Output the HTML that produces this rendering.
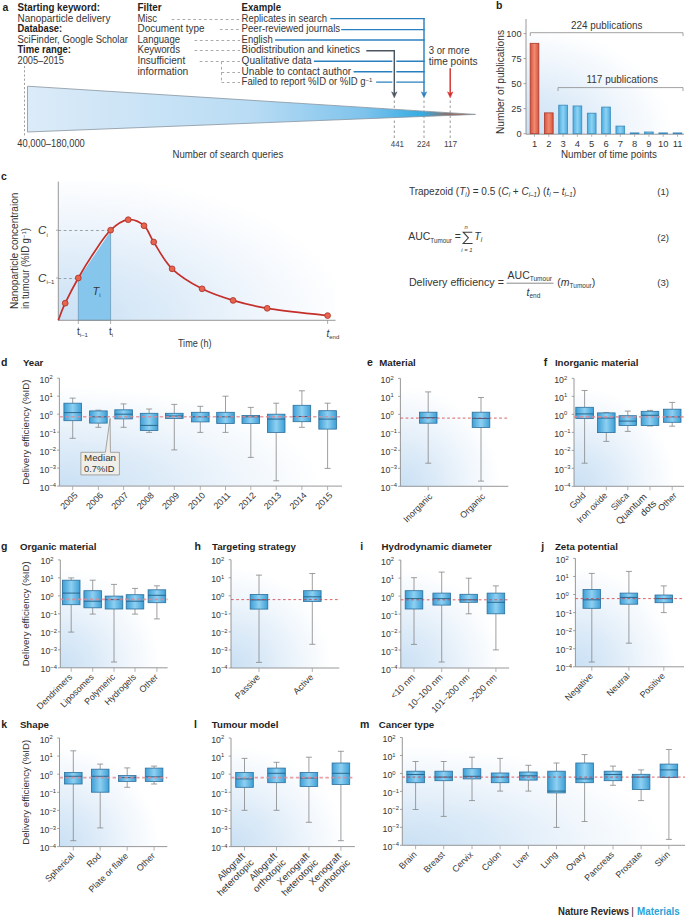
<!DOCTYPE html><html><head><meta charset="utf-8"><style>
html,body{margin:0;padding:0;background:#fff;width:685px;height:918px;overflow:hidden}
svg{display:block;font-family:"Liberation Sans", sans-serif}
</style></head><body>
<svg width="685" height="918" viewBox="0 0 685 918" fill="#363636">
<defs><linearGradient id="boxg" x1="0" y1="0" x2="1" y2="0">
<stop offset="0" stop-color="#3d9fd6"/><stop offset="0.5" stop-color="#8ed0f2"/><stop offset="1" stop-color="#3d9fd6"/></linearGradient>
<radialGradient id="bgr" cx="0" cy="1" r="1" fx="0" fy="1">
<stop offset="0" stop-color="#c9e0f4"/><stop offset="0.35" stop-color="#ddebf8"/><stop offset="0.65" stop-color="#f0f6fc"/><stop offset="0.93" stop-color="#ffffff"/></radialGradient>
<linearGradient id="bgg" x1="0" y1="1" x2="1" y2="0">
<stop offset="0" stop-color="#cbe1f4"/><stop offset="0.22" stop-color="#e0edf9"/><stop offset="0.45" stop-color="#f3f8fd"/><stop offset="0.68" stop-color="#ffffff"/></linearGradient>
<radialGradient id="bgc" cx="0" cy="1" r="1.15" fx="0" fy="1">
<stop offset="0" stop-color="#c9e0f4"/><stop offset="0.4" stop-color="#e0edf9"/><stop offset="0.7" stop-color="#f4f8fd"/><stop offset="0.92" stop-color="#ffffff"/></radialGradient>
<linearGradient id="funnel" x1="27" y1="0" x2="476" y2="0" gradientUnits="userSpaceOnUse">
<stop offset="0" stop-color="#dcebf8"/><stop offset="0.5" stop-color="#b9dcf4"/><stop offset="0.75" stop-color="#7ec3ec"/><stop offset="0.88" stop-color="#36abe2"/><stop offset="0.935" stop-color="#8a736c"/><stop offset="1" stop-color="#c04e3c"/></linearGradient>
<linearGradient id="barb" x1="0" y1="0" x2="1" y2="0">
<stop offset="0" stop-color="#4aaee0"/><stop offset="0.5" stop-color="#8fd2f3"/><stop offset="1" stop-color="#4aaee0"/></linearGradient>
<linearGradient id="barr" x1="0" y1="0" x2="1" y2="0">
<stop offset="0" stop-color="#d9533c"/><stop offset="0.5" stop-color="#f08a70"/><stop offset="1" stop-color="#d9533c"/></linearGradient>
<linearGradient id="trap" x1="0" y1="1" x2="1" y2="0">
<stop offset="0" stop-color="#7cc0ea"/><stop offset="1" stop-color="#a5d4f3"/></linearGradient>
<marker id="ab" viewBox="0 0 10 10" refX="5" refY="10" markerWidth="5" markerHeight="6" orient="auto-start-reverse"><path d="M0,0 L10,0 L5,10 z" fill="#2b86c5"/></marker></defs>
<text x="2.50" y="10.50" font-size="10.5" font-weight="bold" fill="#1e1e1e">a</text>
<text x="17.50" y="10.90" font-size="10.0" font-weight="bold" fill="#1e1e1e" textLength="82.40" lengthAdjust="spacingAndGlyphs">Starting keyword:</text>
<text x="17.50" y="21.53" font-size="10.0" textLength="92.90" lengthAdjust="spacingAndGlyphs">Nanoparticle delivery</text>
<text x="17.50" y="32.16" font-size="10.0" font-weight="bold" fill="#1e1e1e" textLength="44.70" lengthAdjust="spacingAndGlyphs">Database:</text>
<text x="17.50" y="42.79" font-size="10.0" textLength="110.40" lengthAdjust="spacingAndGlyphs">SciFinder, Google Scholar</text>
<text x="17.50" y="53.42" font-size="10.0" font-weight="bold" fill="#1e1e1e" textLength="53.50" lengthAdjust="spacingAndGlyphs">Time range:</text>
<text x="17.50" y="64.05" font-size="10.0" textLength="46.40" lengthAdjust="spacingAndGlyphs">2005–2015</text>
<text x="137.50" y="10.90" font-size="10.0" font-weight="bold" fill="#1e1e1e" textLength="24.20" lengthAdjust="spacingAndGlyphs">Filter</text>
<text x="137.50" y="21.53" font-size="10.0" textLength="19.60" lengthAdjust="spacingAndGlyphs">Misc</text>
<text x="137.50" y="32.16" font-size="10.0" textLength="67.10" lengthAdjust="spacingAndGlyphs">Document type</text>
<text x="137.50" y="42.79" font-size="10.0" textLength="42.60" lengthAdjust="spacingAndGlyphs">Language</text>
<text x="137.50" y="53.42" font-size="10.0" textLength="42.60" lengthAdjust="spacingAndGlyphs">Keywords</text>
<text x="137.50" y="64.05" font-size="10.0" textLength="47.70" lengthAdjust="spacingAndGlyphs">Insufficient</text>
<text x="137.50" y="74.68" font-size="10.0" textLength="50.80" lengthAdjust="spacingAndGlyphs">information</text>
<text x="241.60" y="10.90" font-size="10.0" font-weight="bold" fill="#1e1e1e" textLength="39.40" lengthAdjust="spacingAndGlyphs">Example</text>
<text x="241.60" y="21.53" font-size="10.0" textLength="85.40" lengthAdjust="spacingAndGlyphs">Replicates in search</text>
<text x="241.60" y="32.16" font-size="10.0" textLength="98.50" lengthAdjust="spacingAndGlyphs">Peer-reviewed journals</text>
<text x="241.60" y="42.79" font-size="10.0" textLength="31.10" lengthAdjust="spacingAndGlyphs">English</text>
<text x="241.60" y="53.42" font-size="10.0" textLength="118.50" lengthAdjust="spacingAndGlyphs">Biodistribution and kinetics</text>
<text x="241.60" y="64.05" font-size="10.0" textLength="70.10" lengthAdjust="spacingAndGlyphs">Qualitative data</text>
<text x="241.60" y="74.68" font-size="10.0" textLength="109.50" lengthAdjust="spacingAndGlyphs">Unable to contact author</text>
<text x="241.6" y="85.31" font-size="10.0" fill="#363636"><tspan textLength="124" lengthAdjust="spacingAndGlyphs">Failed to report %ID or %ID g</tspan><tspan dy="-3.5" font-size="6">−1</tspan></text>
<line x1="171.70" y1="19.50" x2="240.00" y2="19.50" stroke="#a0a0a0" stroke-width="0.9" stroke-dasharray="2.7,2.7"/>
<line x1="219.90" y1="29.50" x2="240.00" y2="29.50" stroke="#a0a0a0" stroke-width="0.9" stroke-dasharray="2.7,2.7"/>
<line x1="194.50" y1="40.50" x2="240.00" y2="40.50" stroke="#a0a0a0" stroke-width="0.9" stroke-dasharray="2.7,2.7"/>
<line x1="194.50" y1="50.50" x2="240.00" y2="50.50" stroke="#a0a0a0" stroke-width="0.9" stroke-dasharray="2.7,2.7"/>
<line x1="199.70" y1="61.50" x2="240.00" y2="61.50" stroke="#a0a0a0" stroke-width="0.9" stroke-dasharray="2.7,2.7"/>
<line x1="221.50" y1="61.50" x2="221.50" y2="82.50" stroke="#a0a0a0" stroke-width="0.9" stroke-dasharray="2.7,2.7"/>
<line x1="221.50" y1="72.50" x2="240.00" y2="72.50" stroke="#a0a0a0" stroke-width="0.9" stroke-dasharray="2.7,2.7"/>
<line x1="221.50" y1="82.50" x2="240.00" y2="82.50" stroke="#a0a0a0" stroke-width="0.9" stroke-dasharray="2.7,2.7"/>
<line x1="330.30" y1="18.60" x2="424.70" y2="18.60" stroke="#2a80bf" stroke-width="1.45"/>
<line x1="341.20" y1="29.60" x2="424.70" y2="29.60" stroke="#2a80bf" stroke-width="1.45"/>
<line x1="275.10" y1="40.00" x2="424.70" y2="40.00" stroke="#2a80bf" stroke-width="1.45"/>
<line x1="313.90" y1="61.30" x2="424.70" y2="61.30" stroke="#2a80bf" stroke-width="1.45"/>
<line x1="353.60" y1="71.80" x2="424.70" y2="71.80" stroke="#2a80bf" stroke-width="1.45"/>
<line x1="376.10" y1="82.10" x2="424.70" y2="82.10" stroke="#2a80bf" stroke-width="1.45"/>
<line x1="424.00" y1="17.90" x2="424.00" y2="94.00" stroke="#2a80bf" stroke-width="1.45"/>
<path d="M421.30,91.80 L424.00,97.80 L426.70,91.80 L424.00,93.60 z" fill="#2a80bf" stroke="#2a80bf" stroke-width="0.5" stroke-linejoin="miter"/>
<path d="M394.3,52 L394.3,93" fill="none" stroke="#ffffff" stroke-width="4"/>
<path d="M366.3,50.8 L394.3,50.8 L394.3,94" fill="none" stroke="#4b5660" stroke-width="1.45"/>
<path d="M391.60,91.80 L394.30,97.80 L397.00,91.80 L394.30,93.60 z" fill="#4b5660" stroke="#4b5660" stroke-width="0.5" stroke-linejoin="miter"/>
<line x1="450.20" y1="68.30" x2="450.20" y2="94.00" stroke="#d3302f" stroke-width="1.45"/>
<path d="M447.50,91.80 L450.20,97.80 L452.90,91.80 L450.20,93.60 z" fill="#d3302f" stroke="#d3302f" stroke-width="0.5" stroke-linejoin="miter"/>
<text x="428.70" y="53.80" font-size="10.0" textLength="40.80" lengthAdjust="spacingAndGlyphs">3 or more</text>
<text x="428.70" y="64.60" font-size="10.0" textLength="48.80" lengthAdjust="spacingAndGlyphs">time points</text>
<line x1="394.30" y1="100.50" x2="394.30" y2="138.00" stroke="#8c8c8c" stroke-width="0.9" stroke-dasharray="2.5,2.5"/>
<line x1="424.00" y1="100.50" x2="424.00" y2="138.00" stroke="#8c8c8c" stroke-width="0.9" stroke-dasharray="2.5,2.5"/>
<line x1="450.20" y1="100.50" x2="450.20" y2="138.00" stroke="#8c8c8c" stroke-width="0.9" stroke-dasharray="2.5,2.5"/>
<path d="M27.5,86.2 L475.5,114.4 L27.5,132 z" fill="url(#funnel)" stroke="#8894a0" stroke-width="0.8"/>
<line x1="24.50" y1="66.00" x2="24.50" y2="137.50" stroke="#8a8a8a" stroke-width="0.8" stroke-dasharray="2.2,2"/>
<text x="17.30" y="146.80" font-size="10.0" textLength="67.50" lengthAdjust="spacingAndGlyphs">40,000–180,000</text>
<text x="397.40" y="146.50" font-size="9.6" text-anchor="middle" fill="#444444" textLength="13.20" lengthAdjust="spacingAndGlyphs">441</text>
<text x="423.60" y="146.50" font-size="9.6" text-anchor="middle" fill="#444444" textLength="13.20" lengthAdjust="spacingAndGlyphs">224</text>
<text x="450.60" y="146.50" font-size="9.6" text-anchor="middle" fill="#444444" textLength="13.20" lengthAdjust="spacingAndGlyphs">117</text>
<text x="172.50" y="158.30" font-size="10.3" textLength="110.70" lengthAdjust="spacingAndGlyphs">Number of search queries</text>
<text x="496.00" y="8.80" font-size="10.5" font-weight="bold" fill="#1e1e1e">b</text>
<rect x="526" y="19" width="158" height="115" fill="url(#bgr)"/>
<line x1="526.00" y1="19.00" x2="526.00" y2="134.20" stroke="#8c8c8c" stroke-width="0.9"/>
<line x1="526.00" y1="134.20" x2="684.00" y2="134.20" stroke="#8c8c8c" stroke-width="0.9"/>
<line x1="523.50" y1="133.70" x2="526.00" y2="133.70" stroke="#8c8c8c" stroke-width="0.8"/>
<text x="521.50" y="137.00" font-size="9.2" text-anchor="end">0</text>
<line x1="523.50" y1="108.67" x2="526.00" y2="108.67" stroke="#8c8c8c" stroke-width="0.8"/>
<text x="521.50" y="111.97" font-size="9.2" text-anchor="end">25</text>
<line x1="523.50" y1="83.65" x2="526.00" y2="83.65" stroke="#8c8c8c" stroke-width="0.8"/>
<text x="521.50" y="86.95" font-size="9.2" text-anchor="end">50</text>
<line x1="523.50" y1="58.62" x2="526.00" y2="58.62" stroke="#8c8c8c" stroke-width="0.8"/>
<text x="521.50" y="61.92" font-size="9.2" text-anchor="end">75</text>
<line x1="523.50" y1="33.60" x2="526.00" y2="33.60" stroke="#8c8c8c" stroke-width="0.8"/>
<text x="521.50" y="36.90" font-size="9.2" text-anchor="end">100</text>
<rect x="530.15" y="43.31" width="8.7" height="90.39" fill="url(#barr)" stroke="#a83a2c" stroke-width="0.8"/>
<line x1="534.50" y1="134.20" x2="534.50" y2="136.80" stroke="#a0a0a0" stroke-width="0.8"/>
<text x="534.50" y="146.50" font-size="9.4" text-anchor="middle">1</text>
<rect x="544.45" y="112.88" width="8.7" height="20.82" fill="url(#barr)" stroke="#a83a2c" stroke-width="0.8"/>
<line x1="548.80" y1="134.20" x2="548.80" y2="136.80" stroke="#a0a0a0" stroke-width="0.8"/>
<text x="548.80" y="146.50" font-size="9.4" text-anchor="middle">2</text>
<rect x="558.75" y="105.17" width="8.7" height="28.53" fill="url(#barb)" stroke="#3a88ba" stroke-width="0.8"/>
<line x1="563.10" y1="134.20" x2="563.10" y2="136.80" stroke="#a0a0a0" stroke-width="0.8"/>
<text x="563.10" y="146.50" font-size="9.4" text-anchor="middle">3</text>
<rect x="573.05" y="105.97" width="8.7" height="27.73" fill="url(#barb)" stroke="#3a88ba" stroke-width="0.8"/>
<line x1="577.40" y1="134.20" x2="577.40" y2="136.80" stroke="#a0a0a0" stroke-width="0.8"/>
<text x="577.40" y="146.50" font-size="9.4" text-anchor="middle">4</text>
<rect x="587.35" y="113.18" width="8.7" height="20.52" fill="url(#barb)" stroke="#3a88ba" stroke-width="0.8"/>
<line x1="591.70" y1="134.20" x2="591.70" y2="136.80" stroke="#a0a0a0" stroke-width="0.8"/>
<text x="591.70" y="146.50" font-size="9.4" text-anchor="middle">5</text>
<rect x="601.65" y="107.07" width="8.7" height="26.63" fill="url(#barb)" stroke="#3a88ba" stroke-width="0.8"/>
<line x1="606.00" y1="134.20" x2="606.00" y2="136.80" stroke="#a0a0a0" stroke-width="0.8"/>
<text x="606.00" y="146.50" font-size="9.4" text-anchor="middle">6</text>
<rect x="615.95" y="126.09" width="8.7" height="7.61" fill="url(#barb)" stroke="#3a88ba" stroke-width="0.8"/>
<line x1="620.30" y1="134.20" x2="620.30" y2="136.80" stroke="#a0a0a0" stroke-width="0.8"/>
<text x="620.30" y="146.50" font-size="9.4" text-anchor="middle">7</text>
<rect x="630.25" y="132.90" width="8.7" height="0.80" fill="url(#barb)" stroke="#3a88ba" stroke-width="0.8"/>
<line x1="634.60" y1="134.20" x2="634.60" y2="136.80" stroke="#a0a0a0" stroke-width="0.8"/>
<text x="634.60" y="146.50" font-size="9.4" text-anchor="middle">8</text>
<rect x="644.55" y="132.00" width="8.7" height="1.70" fill="url(#barb)" stroke="#3a88ba" stroke-width="0.8"/>
<line x1="648.90" y1="134.20" x2="648.90" y2="136.80" stroke="#a0a0a0" stroke-width="0.8"/>
<text x="648.90" y="146.50" font-size="9.4" text-anchor="middle">9</text>
<rect x="658.85" y="132.90" width="8.7" height="0.80" fill="url(#barb)" stroke="#3a88ba" stroke-width="0.8"/>
<line x1="663.20" y1="134.20" x2="663.20" y2="136.80" stroke="#a0a0a0" stroke-width="0.8"/>
<text x="663.20" y="146.50" font-size="9.4" text-anchor="middle">10</text>
<rect x="673.15" y="132.90" width="8.7" height="0.80" fill="url(#barb)" stroke="#3a88ba" stroke-width="0.8"/>
<line x1="677.50" y1="134.20" x2="677.50" y2="136.80" stroke="#a0a0a0" stroke-width="0.8"/>
<text x="677.50" y="146.50" font-size="9.4" text-anchor="middle">11</text>
<path d="M530.3,36 L530.3,32.7 L683,32.7 L683,36" fill="none" stroke="#8a8a8a" stroke-width="0.8"/>
<path d="M558,91 L558,87.6 L683,87.6 L683,91" fill="none" stroke="#8a8a8a" stroke-width="0.8"/>
<text x="606.80" y="28.50" font-size="10.2" text-anchor="middle" textLength="71.50" lengthAdjust="spacingAndGlyphs">224 publications</text>
<text x="622.20" y="83.40" font-size="10.2" text-anchor="middle" textLength="71.50" lengthAdjust="spacingAndGlyphs">117 publications</text>
<text x="609.00" y="158.00" font-size="10.2" text-anchor="middle" textLength="96.00" lengthAdjust="spacingAndGlyphs">Number of time points</text>
<text x="503.50" y="82.00" font-size="10.2" text-anchor="middle" textLength="104.00" lengthAdjust="spacingAndGlyphs" transform="rotate(-90 503.50 82.00)">Number of publications</text>
<text x="1.00" y="179.80" font-size="10.5" font-weight="bold" fill="#1e1e1e">c</text>
<rect x="58.3" y="181.6" width="277" height="138.7" fill="url(#bgc)"/>
<path d="M78.3,278 L110.6,230.2 L110.6,320.3 L78.3,320.3 z" fill="#86c5ec" stroke="#5a88a8" stroke-width="0.6"/>
<path d="M78.3,278 L110.6,230.2" stroke="#ffffff" stroke-width="1.1"/>
<line x1="58.30" y1="230.50" x2="110.60" y2="230.50" stroke="#8f9aa2" stroke-width="0.9" stroke-dasharray="2.8,2.6"/>
<line x1="58.30" y1="278.50" x2="78.30" y2="278.50" stroke="#8f9aa2" stroke-width="0.9" stroke-dasharray="2.8,2.6"/>
<line x1="58.30" y1="181.60" x2="58.30" y2="320.30" stroke="#8c8c8c" stroke-width="0.9"/>
<line x1="58.30" y1="320.30" x2="335.50" y2="320.30" stroke="#8c8c8c" stroke-width="0.9"/>
<line x1="78.30" y1="320.30" x2="78.30" y2="324.00" stroke="#8c8c8c" stroke-width="0.7"/>
<line x1="110.60" y1="320.30" x2="110.60" y2="324.00" stroke="#8c8c8c" stroke-width="0.7"/>
<line x1="327.60" y1="320.30" x2="327.60" y2="324.00" stroke="#8c8c8c" stroke-width="0.7"/>
<line x1="56.00" y1="230.20" x2="58.30" y2="230.20" stroke="#8c8c8c" stroke-width="0.7"/>
<line x1="56.00" y1="278.00" x2="58.30" y2="278.00" stroke="#8c8c8c" stroke-width="0.7"/>
<path d="M58.30,320.30 C59.45,317.45 61.87,310.25 65.20,303.20 C68.53,296.15 73.47,286.50 78.30,278.00 C83.13,269.50 88.82,260.17 94.20,252.20 C99.58,244.23 104.93,235.62 110.60,230.20 C116.27,224.78 122.63,220.45 128.20,219.70 C133.77,218.95 139.75,221.98 144.00,225.70 C148.25,229.42 149.02,234.82 153.70,242.00 C158.38,249.18 164.03,261.00 172.10,268.80 C180.17,276.60 191.93,283.53 202.10,288.80 C212.27,294.07 222.25,297.15 233.10,300.40 C243.95,303.65 251.45,305.77 267.20,308.30 C282.95,310.83 317.53,314.38 327.60,315.60" fill="none" stroke="#c42f2a" stroke-width="1.7"/>
<circle cx="65.2" cy="303.2" r="2.9" fill="#e8654d" stroke="#a8302a" stroke-width="0.8"/>
<circle cx="78.3" cy="278.0" r="2.9" fill="#e8654d" stroke="#a8302a" stroke-width="0.8"/>
<circle cx="110.6" cy="230.2" r="2.9" fill="#e8654d" stroke="#a8302a" stroke-width="0.8"/>
<circle cx="128.2" cy="219.7" r="2.9" fill="#e8654d" stroke="#a8302a" stroke-width="0.8"/>
<circle cx="144.0" cy="225.7" r="2.9" fill="#e8654d" stroke="#a8302a" stroke-width="0.8"/>
<circle cx="153.7" cy="242.0" r="2.9" fill="#e8654d" stroke="#a8302a" stroke-width="0.8"/>
<circle cx="172.1" cy="268.8" r="2.9" fill="#e8654d" stroke="#a8302a" stroke-width="0.8"/>
<circle cx="202.1" cy="288.8" r="2.9" fill="#e8654d" stroke="#a8302a" stroke-width="0.8"/>
<circle cx="233.1" cy="300.4" r="2.9" fill="#e8654d" stroke="#a8302a" stroke-width="0.8"/>
<circle cx="267.2" cy="308.3" r="2.9" fill="#e8654d" stroke="#a8302a" stroke-width="0.8"/>
<circle cx="327.6" cy="315.6" r="2.9" fill="#e8654d" stroke="#a8302a" stroke-width="0.8"/>
<text x="38.1" y="234.1" font-size="11.5" font-style="italic">C<tspan dy="2.5" font-size="6" font-style="normal">i</tspan></text>
<text x="38.1" y="281.5" font-size="11.5" font-style="italic">C<tspan dy="2.5" font-size="6" font-style="normal">i–1</tspan></text>
<text x="92.5" y="294.5" font-size="11" font-style="italic">T<tspan dy="2.5" font-size="6" font-style="normal">i</tspan></text>
<text x="77" y="335" font-size="10">t<tspan dy="2" font-size="6">i–1</tspan></text>
<text x="109" y="335" font-size="10">t<tspan dy="2" font-size="6">i</tspan></text>
<text x="326.5" y="336.5" font-size="10" font-style="italic">t<tspan dy="2" font-size="6" font-style="normal">end</tspan></text>
<text x="177.90" y="347.10" font-size="10.0" textLength="33.60" lengthAdjust="spacingAndGlyphs">Time (h)</text>
<text x="18.30" y="309.10" font-size="10.0" textLength="116.40" lengthAdjust="spacingAndGlyphs" transform="rotate(-90 18.30 309.10)">Nanoparticle concentraion</text>
<text x="29.2" y="309.1" font-size="10.0" transform="rotate(-90 29.2 309.1)"><tspan textLength="71" lengthAdjust="spacingAndGlyphs">in tumour (%ID g</tspan><tspan dy="-3.5" font-size="6">−1</tspan><tspan dy="3.5">)</tspan></text>
<text x="408.9" y="194.7" font-size="10.5" transform="translate(408.9 0) scale(0.954 1) translate(-408.9 0)">Trapezoid (<tspan font-style="italic">T</tspan><tspan dy="2" font-size="6.5" font-style="italic">i</tspan><tspan dy="-2">) = 0.5 (</tspan><tspan font-style="italic">C</tspan><tspan dy="2" font-size="6.5" font-style="italic">i</tspan><tspan dy="-2"> + </tspan><tspan font-style="italic">C</tspan><tspan dy="2" font-size="6.5" font-style="italic">i–1</tspan><tspan dy="-2">) (</tspan><tspan font-style="italic">t</tspan><tspan dy="2" font-size="6.5" font-style="italic">i</tspan><tspan dy="-2"> – </tspan><tspan font-style="italic">t</tspan><tspan dy="2" font-size="6.5" font-style="italic">i–1</tspan><tspan dy="-2">)</tspan></text>
<text x="657.20" y="194.90" font-size="9.6">(1)</text>
<text x="408.2" y="240.3" font-size="10.5">AUC<tspan dy="2.2" font-size="6.8" textLength="21.5" lengthAdjust="spacingAndGlyphs">Tumour</tspan></text>
<text x="454.80" y="240.30" font-size="10.5">=</text>
<path d="M472.3,232.2 L463.2,232.2 L468.4,237.8 L463.2,243.4 L472.6,243.4" fill="none" stroke="#3d3d3d" stroke-width="1.05" stroke-linejoin="miter"/>
<text x="464.60" y="228.60" font-size="5.8" font-style="italic">n</text>
<text x="461.30" y="252.00" font-size="5.8" font-style="italic">i = 1</text>
<text x="474.3" y="240.0" font-size="10.5" font-style="italic">T<tspan dy="2" font-size="6.5">i</tspan></text>
<text x="657.20" y="240.80" font-size="9.6">(2)</text>
<text x="408.90" y="286.30" font-size="10.5" textLength="95.00" lengthAdjust="spacingAndGlyphs">Delivery efficiency =</text>
<text x="507.6" y="279.3" font-size="10.5">AUC<tspan dy="2" font-size="6.5">Tumour</tspan></text>
<line x1="506.50" y1="283.20" x2="553.50" y2="283.20" stroke="#3d3d3d" stroke-width="0.6"/>
<text x="526.5" y="295.6" font-size="10.5" font-style="italic">t<tspan dy="2" font-size="6.5" font-style="normal">end</tspan></text>
<text x="557.3" y="285.9" font-size="10.5">(<tspan font-style="italic">m</tspan><tspan dy="2" font-size="6.5">Tumour</tspan><tspan dy="-2">)</tspan></text>
<text x="657.20" y="285.90" font-size="9.6">(3)</text>
<text x="1.00" y="366.10" font-size="10.5" font-weight="bold" fill="#1e1e1e">d</text>
<text x="22.90" y="366.10" font-size="9.7" font-weight="bold" fill="#1e1e1e">Year</text>
<rect x="59.40" y="378.20" width="282.60" height="107.90" fill="url(#bgr)"/>
<line x1="59.40" y1="378.20" x2="59.40" y2="486.10" stroke="#8c8c8c" stroke-width="0.9"/>
<line x1="59.40" y1="486.10" x2="342.00" y2="486.10" stroke="#8c8c8c" stroke-width="0.9"/>
<line x1="57.10" y1="378.20" x2="59.40" y2="378.20" stroke="#8c8c8c" stroke-width="0.8"/>
<text x="39.60" y="382.70" font-size="8.8">10<tspan dy="-3.4" font-size="5.8">2</tspan></text>
<line x1="57.10" y1="396.18" x2="59.40" y2="396.18" stroke="#8c8c8c" stroke-width="0.8"/>
<text x="39.60" y="400.68" font-size="8.8">10<tspan dy="-3.4" font-size="5.8">1</tspan></text>
<line x1="57.10" y1="414.17" x2="59.40" y2="414.17" stroke="#8c8c8c" stroke-width="0.8"/>
<text x="39.60" y="418.67" font-size="8.8">10<tspan dy="-3.4" font-size="5.8">0</tspan></text>
<line x1="57.10" y1="432.15" x2="59.40" y2="432.15" stroke="#8c8c8c" stroke-width="0.8"/>
<text x="39.60" y="436.65" font-size="8.8">10<tspan dy="-3.4" font-size="5.8">−1</tspan></text>
<line x1="57.10" y1="450.13" x2="59.40" y2="450.13" stroke="#8c8c8c" stroke-width="0.8"/>
<text x="39.60" y="454.63" font-size="8.8">10<tspan dy="-3.4" font-size="5.8">−2</tspan></text>
<line x1="57.10" y1="468.12" x2="59.40" y2="468.12" stroke="#8c8c8c" stroke-width="0.8"/>
<text x="39.60" y="472.62" font-size="8.8">10<tspan dy="-3.4" font-size="5.8">−3</tspan></text>
<line x1="57.10" y1="486.10" x2="59.40" y2="486.10" stroke="#8c8c8c" stroke-width="0.8"/>
<text x="39.60" y="490.60" font-size="8.8">10<tspan dy="-3.4" font-size="5.8">−4</tspan></text>
<line x1="72.70" y1="486.10" x2="72.70" y2="490.10" stroke="#a0a0a0" stroke-width="0.8"/>
<line x1="98.40" y1="486.10" x2="98.40" y2="490.10" stroke="#a0a0a0" stroke-width="0.8"/>
<line x1="123.60" y1="486.10" x2="123.60" y2="490.10" stroke="#a0a0a0" stroke-width="0.8"/>
<line x1="149.10" y1="486.10" x2="149.10" y2="490.10" stroke="#a0a0a0" stroke-width="0.8"/>
<line x1="174.30" y1="486.10" x2="174.30" y2="490.10" stroke="#a0a0a0" stroke-width="0.8"/>
<line x1="200.30" y1="486.10" x2="200.30" y2="490.10" stroke="#a0a0a0" stroke-width="0.8"/>
<line x1="225.50" y1="486.10" x2="225.50" y2="490.10" stroke="#a0a0a0" stroke-width="0.8"/>
<line x1="250.80" y1="486.10" x2="250.80" y2="490.10" stroke="#a0a0a0" stroke-width="0.8"/>
<line x1="276.20" y1="486.10" x2="276.20" y2="490.10" stroke="#a0a0a0" stroke-width="0.8"/>
<line x1="301.90" y1="486.10" x2="301.90" y2="490.10" stroke="#a0a0a0" stroke-width="0.8"/>
<line x1="327.60" y1="486.10" x2="327.60" y2="490.10" stroke="#a0a0a0" stroke-width="0.8"/>
<line x1="72.70" y1="398.10" x2="72.70" y2="403.20" stroke="#868686" stroke-width="0.8"/>
<line x1="72.70" y1="420.70" x2="72.70" y2="438.30" stroke="#868686" stroke-width="0.8"/>
<line x1="69.70" y1="398.10" x2="75.70" y2="398.10" stroke="#868686" stroke-width="0.8"/>
<line x1="69.70" y1="438.30" x2="75.70" y2="438.30" stroke="#868686" stroke-width="0.8"/>
<rect x="63.90" y="403.20" width="17.6" height="17.50" fill="url(#boxg)" stroke="#2c6f9c" stroke-width="0.8"/>
<line x1="63.90" y1="412.60" x2="81.50" y2="412.60" stroke="#245f85" stroke-width="0.9"/>
<line x1="98.40" y1="410.20" x2="98.40" y2="410.90" stroke="#868686" stroke-width="0.8"/>
<line x1="98.40" y1="423.10" x2="98.40" y2="427.30" stroke="#868686" stroke-width="0.8"/>
<line x1="95.40" y1="410.20" x2="101.40" y2="410.20" stroke="#868686" stroke-width="0.8"/>
<line x1="95.40" y1="427.30" x2="101.40" y2="427.30" stroke="#868686" stroke-width="0.8"/>
<rect x="89.60" y="410.90" width="17.6" height="12.20" fill="url(#boxg)" stroke="#2c6f9c" stroke-width="0.8"/>
<line x1="89.60" y1="416.80" x2="107.20" y2="416.80" stroke="#245f85" stroke-width="0.9"/>
<line x1="123.60" y1="403.90" x2="123.60" y2="409.80" stroke="#868686" stroke-width="0.8"/>
<line x1="123.60" y1="418.90" x2="123.60" y2="427.30" stroke="#868686" stroke-width="0.8"/>
<line x1="120.60" y1="403.90" x2="126.60" y2="403.90" stroke="#868686" stroke-width="0.8"/>
<line x1="120.60" y1="427.30" x2="126.60" y2="427.30" stroke="#868686" stroke-width="0.8"/>
<rect x="114.80" y="409.80" width="17.6" height="9.10" fill="url(#boxg)" stroke="#2c6f9c" stroke-width="0.8"/>
<line x1="114.80" y1="414.20" x2="132.40" y2="414.20" stroke="#245f85" stroke-width="0.9"/>
<line x1="149.10" y1="409.00" x2="149.10" y2="413.30" stroke="#868686" stroke-width="0.8"/>
<line x1="149.10" y1="430.50" x2="149.10" y2="432.40" stroke="#868686" stroke-width="0.8"/>
<line x1="146.10" y1="409.00" x2="152.10" y2="409.00" stroke="#868686" stroke-width="0.8"/>
<line x1="146.10" y1="432.40" x2="152.10" y2="432.40" stroke="#868686" stroke-width="0.8"/>
<rect x="140.30" y="413.30" width="17.6" height="17.20" fill="url(#boxg)" stroke="#2c6f9c" stroke-width="0.8"/>
<line x1="140.30" y1="425.40" x2="157.90" y2="425.40" stroke="#245f85" stroke-width="0.9"/>
<line x1="174.30" y1="404.40" x2="174.30" y2="413.30" stroke="#868686" stroke-width="0.8"/>
<line x1="174.30" y1="418.40" x2="174.30" y2="449.90" stroke="#868686" stroke-width="0.8"/>
<line x1="171.30" y1="404.40" x2="177.30" y2="404.40" stroke="#868686" stroke-width="0.8"/>
<line x1="171.30" y1="449.90" x2="177.30" y2="449.90" stroke="#868686" stroke-width="0.8"/>
<rect x="165.50" y="413.30" width="17.6" height="5.10" fill="url(#boxg)" stroke="#2c6f9c" stroke-width="0.8"/>
<line x1="165.50" y1="416.00" x2="183.10" y2="416.00" stroke="#245f85" stroke-width="0.9"/>
<line x1="200.30" y1="406.30" x2="200.30" y2="412.30" stroke="#868686" stroke-width="0.8"/>
<line x1="200.30" y1="421.90" x2="200.30" y2="432.40" stroke="#868686" stroke-width="0.8"/>
<line x1="197.30" y1="406.30" x2="203.30" y2="406.30" stroke="#868686" stroke-width="0.8"/>
<line x1="197.30" y1="432.40" x2="203.30" y2="432.40" stroke="#868686" stroke-width="0.8"/>
<rect x="191.50" y="412.30" width="17.6" height="9.60" fill="url(#boxg)" stroke="#2c6f9c" stroke-width="0.8"/>
<line x1="191.50" y1="416.80" x2="209.10" y2="416.80" stroke="#245f85" stroke-width="0.9"/>
<line x1="225.50" y1="396.20" x2="225.50" y2="412.30" stroke="#868686" stroke-width="0.8"/>
<line x1="225.50" y1="423.50" x2="225.50" y2="432.40" stroke="#868686" stroke-width="0.8"/>
<line x1="222.50" y1="396.20" x2="228.50" y2="396.20" stroke="#868686" stroke-width="0.8"/>
<line x1="222.50" y1="432.40" x2="228.50" y2="432.40" stroke="#868686" stroke-width="0.8"/>
<rect x="216.70" y="412.30" width="17.6" height="11.20" fill="url(#boxg)" stroke="#2c6f9c" stroke-width="0.8"/>
<line x1="216.70" y1="416.80" x2="234.30" y2="416.80" stroke="#245f85" stroke-width="0.9"/>
<line x1="250.80" y1="407.40" x2="250.80" y2="415.40" stroke="#868686" stroke-width="0.8"/>
<line x1="250.80" y1="423.50" x2="250.80" y2="457.40" stroke="#868686" stroke-width="0.8"/>
<line x1="247.80" y1="407.40" x2="253.80" y2="407.40" stroke="#868686" stroke-width="0.8"/>
<line x1="247.80" y1="457.40" x2="253.80" y2="457.40" stroke="#868686" stroke-width="0.8"/>
<rect x="242.00" y="415.40" width="17.6" height="8.10" fill="url(#boxg)" stroke="#2c6f9c" stroke-width="0.8"/>
<line x1="242.00" y1="416.80" x2="259.60" y2="416.80" stroke="#245f85" stroke-width="0.9"/>
<line x1="276.20" y1="403.20" x2="276.20" y2="414.20" stroke="#868686" stroke-width="0.8"/>
<line x1="276.20" y1="432.40" x2="276.20" y2="480.80" stroke="#868686" stroke-width="0.8"/>
<line x1="273.20" y1="403.20" x2="279.20" y2="403.20" stroke="#868686" stroke-width="0.8"/>
<line x1="273.20" y1="480.80" x2="279.20" y2="480.80" stroke="#868686" stroke-width="0.8"/>
<rect x="267.40" y="414.20" width="17.6" height="18.20" fill="url(#boxg)" stroke="#2c6f9c" stroke-width="0.8"/>
<line x1="267.40" y1="419.10" x2="285.00" y2="419.10" stroke="#245f85" stroke-width="0.9"/>
<line x1="301.90" y1="390.80" x2="301.90" y2="405.30" stroke="#868686" stroke-width="0.8"/>
<line x1="301.90" y1="421.70" x2="301.90" y2="427.30" stroke="#868686" stroke-width="0.8"/>
<line x1="298.90" y1="390.80" x2="304.90" y2="390.80" stroke="#868686" stroke-width="0.8"/>
<line x1="298.90" y1="427.30" x2="304.90" y2="427.30" stroke="#868686" stroke-width="0.8"/>
<rect x="293.10" y="405.30" width="17.6" height="16.40" fill="url(#boxg)" stroke="#2c6f9c" stroke-width="0.8"/>
<line x1="293.10" y1="416.50" x2="310.70" y2="416.50" stroke="#245f85" stroke-width="0.9"/>
<line x1="327.60" y1="403.20" x2="327.60" y2="410.70" stroke="#868686" stroke-width="0.8"/>
<line x1="327.60" y1="429.10" x2="327.60" y2="468.40" stroke="#868686" stroke-width="0.8"/>
<line x1="324.60" y1="403.20" x2="330.60" y2="403.20" stroke="#868686" stroke-width="0.8"/>
<line x1="324.60" y1="468.40" x2="330.60" y2="468.40" stroke="#868686" stroke-width="0.8"/>
<rect x="318.80" y="410.70" width="17.6" height="18.40" fill="url(#boxg)" stroke="#2c6f9c" stroke-width="0.8"/>
<line x1="318.80" y1="419.10" x2="336.40" y2="419.10" stroke="#245f85" stroke-width="0.9"/>
<line x1="59.40" y1="416.80" x2="342.00" y2="416.80" stroke="#e38893" stroke-width="1.6" stroke-dasharray="3.4,2.5" opacity="0.8"/>
<text x="28.60" y="432.15" font-size="9.6" text-anchor="middle" textLength="105.00" lengthAdjust="spacingAndGlyphs" transform="rotate(-90 28.60 432.15)">Delivery efficiency (%ID)</text>
<text x="78.20" y="495.90" font-size="9.0" text-anchor="end" transform="rotate(-45 78.20 495.90)">2005</text>
<text x="103.90" y="495.90" font-size="9.0" text-anchor="end" transform="rotate(-45 103.90 495.90)">2006</text>
<text x="129.10" y="495.90" font-size="9.0" text-anchor="end" transform="rotate(-45 129.10 495.90)">2007</text>
<text x="154.60" y="495.90" font-size="9.0" text-anchor="end" transform="rotate(-45 154.60 495.90)">2008</text>
<text x="179.80" y="495.90" font-size="9.0" text-anchor="end" transform="rotate(-45 179.80 495.90)">2009</text>
<text x="205.80" y="495.90" font-size="9.0" text-anchor="end" transform="rotate(-45 205.80 495.90)">2010</text>
<text x="231.00" y="495.90" font-size="9.0" text-anchor="end" transform="rotate(-45 231.00 495.90)">2011</text>
<text x="256.30" y="495.90" font-size="9.0" text-anchor="end" transform="rotate(-45 256.30 495.90)">2012</text>
<text x="281.70" y="495.90" font-size="9.0" text-anchor="end" transform="rotate(-45 281.70 495.90)">2013</text>
<text x="307.40" y="495.90" font-size="9.0" text-anchor="end" transform="rotate(-45 307.40 495.90)">2014</text>
<text x="333.10" y="495.90" font-size="9.0" text-anchor="end" transform="rotate(-45 333.10 495.90)">2015</text>
<path d="M80.9,452.3 L105.4,452.3 L110.1,418.4 L110.4,452.3 L119.4,452.3 L119.4,474.9 L80.9,474.9 z" fill="#efeee8" stroke="#85857f" stroke-width="0.7"/>
<text x="84.00" y="461.30" font-size="9.8" textLength="32.00" lengthAdjust="spacingAndGlyphs">Median</text>
<text x="84.00" y="471.90" font-size="9.8" textLength="30.50" lengthAdjust="spacingAndGlyphs">0.7%ID</text>
<text x="367.00" y="366.10" font-size="10.5" font-weight="bold" fill="#1e1e1e">e</text>
<text x="379.20" y="366.10" font-size="9.7" font-weight="bold" fill="#1e1e1e">Material</text>
<rect x="400.40" y="378.40" width="107.90" height="107.90" fill="url(#bgr)"/>
<line x1="400.40" y1="378.40" x2="400.40" y2="486.30" stroke="#8c8c8c" stroke-width="0.9"/>
<line x1="400.40" y1="486.30" x2="508.30" y2="486.30" stroke="#8c8c8c" stroke-width="0.9"/>
<line x1="398.10" y1="378.40" x2="400.40" y2="378.40" stroke="#8c8c8c" stroke-width="0.8"/>
<text x="380.60" y="382.90" font-size="8.8">10<tspan dy="-3.4" font-size="5.8">2</tspan></text>
<line x1="398.10" y1="396.38" x2="400.40" y2="396.38" stroke="#8c8c8c" stroke-width="0.8"/>
<text x="380.60" y="400.88" font-size="8.8">10<tspan dy="-3.4" font-size="5.8">1</tspan></text>
<line x1="398.10" y1="414.37" x2="400.40" y2="414.37" stroke="#8c8c8c" stroke-width="0.8"/>
<text x="380.60" y="418.87" font-size="8.8">10<tspan dy="-3.4" font-size="5.8">0</tspan></text>
<line x1="398.10" y1="432.35" x2="400.40" y2="432.35" stroke="#8c8c8c" stroke-width="0.8"/>
<text x="380.60" y="436.85" font-size="8.8">10<tspan dy="-3.4" font-size="5.8">−1</tspan></text>
<line x1="398.10" y1="450.33" x2="400.40" y2="450.33" stroke="#8c8c8c" stroke-width="0.8"/>
<text x="380.60" y="454.83" font-size="8.8">10<tspan dy="-3.4" font-size="5.8">−2</tspan></text>
<line x1="398.10" y1="468.32" x2="400.40" y2="468.32" stroke="#8c8c8c" stroke-width="0.8"/>
<text x="380.60" y="472.82" font-size="8.8">10<tspan dy="-3.4" font-size="5.8">−3</tspan></text>
<line x1="398.10" y1="486.30" x2="400.40" y2="486.30" stroke="#8c8c8c" stroke-width="0.8"/>
<text x="380.60" y="490.80" font-size="8.8">10<tspan dy="-3.4" font-size="5.8">−4</tspan></text>
<line x1="428.20" y1="486.30" x2="428.20" y2="490.30" stroke="#a0a0a0" stroke-width="0.8"/>
<line x1="481.00" y1="486.30" x2="481.00" y2="490.30" stroke="#a0a0a0" stroke-width="0.8"/>
<line x1="428.20" y1="391.90" x2="428.20" y2="412.20" stroke="#868686" stroke-width="0.8"/>
<line x1="428.20" y1="423.20" x2="428.20" y2="463.20" stroke="#868686" stroke-width="0.8"/>
<line x1="425.20" y1="391.90" x2="431.20" y2="391.90" stroke="#868686" stroke-width="0.8"/>
<line x1="425.20" y1="463.20" x2="431.20" y2="463.20" stroke="#868686" stroke-width="0.8"/>
<rect x="419.40" y="412.20" width="17.6" height="11.00" fill="url(#boxg)" stroke="#2c6f9c" stroke-width="0.8"/>
<line x1="419.40" y1="417.60" x2="437.00" y2="417.60" stroke="#245f85" stroke-width="0.9"/>
<line x1="481.00" y1="397.50" x2="481.00" y2="412.20" stroke="#868686" stroke-width="0.8"/>
<line x1="481.00" y1="427.40" x2="481.00" y2="481.10" stroke="#868686" stroke-width="0.8"/>
<line x1="478.00" y1="397.50" x2="484.00" y2="397.50" stroke="#868686" stroke-width="0.8"/>
<line x1="478.00" y1="481.10" x2="484.00" y2="481.10" stroke="#868686" stroke-width="0.8"/>
<rect x="472.20" y="412.20" width="17.6" height="15.20" fill="url(#boxg)" stroke="#2c6f9c" stroke-width="0.8"/>
<line x1="472.20" y1="418.50" x2="489.80" y2="418.50" stroke="#245f85" stroke-width="0.9"/>
<line x1="400.40" y1="418.10" x2="508.30" y2="418.10" stroke="#d63c44" stroke-width="1.0" stroke-dasharray="2.7,2.5" opacity="0.8"/>
<text x="432.80" y="497.10" font-size="8.9" text-anchor="end" transform="rotate(-45 432.80 497.10)">Inorganic</text>
<text x="485.60" y="497.10" font-size="8.9" text-anchor="end" transform="rotate(-45 485.60 497.10)">Organic</text>
<text x="543.70" y="366.10" font-size="10.5" font-weight="bold" fill="#1e1e1e">f</text>
<text x="554.90" y="366.10" font-size="9.7" font-weight="bold" fill="#1e1e1e">Inorganic material</text>
<rect x="574.00" y="378.40" width="110.00" height="107.90" fill="url(#bgr)"/>
<line x1="574.00" y1="378.40" x2="574.00" y2="486.30" stroke="#8c8c8c" stroke-width="0.9"/>
<line x1="574.00" y1="486.30" x2="684.00" y2="486.30" stroke="#8c8c8c" stroke-width="0.9"/>
<line x1="571.70" y1="378.40" x2="574.00" y2="378.40" stroke="#8c8c8c" stroke-width="0.8"/>
<text x="554.20" y="382.90" font-size="8.8">10<tspan dy="-3.4" font-size="5.8">2</tspan></text>
<line x1="571.70" y1="396.38" x2="574.00" y2="396.38" stroke="#8c8c8c" stroke-width="0.8"/>
<text x="554.20" y="400.88" font-size="8.8">10<tspan dy="-3.4" font-size="5.8">1</tspan></text>
<line x1="571.70" y1="414.37" x2="574.00" y2="414.37" stroke="#8c8c8c" stroke-width="0.8"/>
<text x="554.20" y="418.87" font-size="8.8">10<tspan dy="-3.4" font-size="5.8">0</tspan></text>
<line x1="571.70" y1="432.35" x2="574.00" y2="432.35" stroke="#8c8c8c" stroke-width="0.8"/>
<text x="554.20" y="436.85" font-size="8.8">10<tspan dy="-3.4" font-size="5.8">−1</tspan></text>
<line x1="571.70" y1="450.33" x2="574.00" y2="450.33" stroke="#8c8c8c" stroke-width="0.8"/>
<text x="554.20" y="454.83" font-size="8.8">10<tspan dy="-3.4" font-size="5.8">−2</tspan></text>
<line x1="571.70" y1="468.32" x2="574.00" y2="468.32" stroke="#8c8c8c" stroke-width="0.8"/>
<text x="554.20" y="472.82" font-size="8.8">10<tspan dy="-3.4" font-size="5.8">−3</tspan></text>
<line x1="571.70" y1="486.30" x2="574.00" y2="486.30" stroke="#8c8c8c" stroke-width="0.8"/>
<text x="554.20" y="490.80" font-size="8.8">10<tspan dy="-3.4" font-size="5.8">−4</tspan></text>
<line x1="584.60" y1="486.30" x2="584.60" y2="490.30" stroke="#a0a0a0" stroke-width="0.8"/>
<line x1="606.30" y1="486.30" x2="606.30" y2="490.30" stroke="#a0a0a0" stroke-width="0.8"/>
<line x1="627.80" y1="486.30" x2="627.80" y2="490.30" stroke="#a0a0a0" stroke-width="0.8"/>
<line x1="650.00" y1="486.30" x2="650.00" y2="490.30" stroke="#a0a0a0" stroke-width="0.8"/>
<line x1="672.20" y1="486.30" x2="672.20" y2="490.30" stroke="#a0a0a0" stroke-width="0.8"/>
<line x1="584.60" y1="390.50" x2="584.60" y2="407.30" stroke="#868686" stroke-width="0.8"/>
<line x1="584.60" y1="418.50" x2="584.60" y2="463.20" stroke="#868686" stroke-width="0.8"/>
<line x1="581.60" y1="390.50" x2="587.60" y2="390.50" stroke="#868686" stroke-width="0.8"/>
<line x1="581.60" y1="463.20" x2="587.60" y2="463.20" stroke="#868686" stroke-width="0.8"/>
<rect x="575.80" y="407.30" width="17.6" height="11.20" fill="url(#boxg)" stroke="#2c6f9c" stroke-width="0.8"/>
<line x1="575.80" y1="413.90" x2="593.40" y2="413.90" stroke="#245f85" stroke-width="0.9"/>
<line x1="606.30" y1="412.50" x2="606.30" y2="412.90" stroke="#868686" stroke-width="0.8"/>
<line x1="606.30" y1="432.60" x2="606.30" y2="441.40" stroke="#868686" stroke-width="0.8"/>
<line x1="603.30" y1="412.50" x2="609.30" y2="412.50" stroke="#868686" stroke-width="0.8"/>
<line x1="603.30" y1="441.40" x2="609.30" y2="441.40" stroke="#868686" stroke-width="0.8"/>
<rect x="597.50" y="412.90" width="17.6" height="19.70" fill="url(#boxg)" stroke="#2c6f9c" stroke-width="0.8"/>
<line x1="597.50" y1="418.10" x2="615.10" y2="418.10" stroke="#245f85" stroke-width="0.9"/>
<line x1="627.80" y1="411.10" x2="627.80" y2="415.70" stroke="#868686" stroke-width="0.8"/>
<line x1="627.80" y1="425.50" x2="627.80" y2="431.40" stroke="#868686" stroke-width="0.8"/>
<line x1="624.80" y1="411.10" x2="630.80" y2="411.10" stroke="#868686" stroke-width="0.8"/>
<line x1="624.80" y1="431.40" x2="630.80" y2="431.40" stroke="#868686" stroke-width="0.8"/>
<rect x="619.00" y="415.70" width="17.6" height="9.80" fill="url(#boxg)" stroke="#2c6f9c" stroke-width="0.8"/>
<line x1="619.00" y1="421.10" x2="636.60" y2="421.10" stroke="#245f85" stroke-width="0.9"/>
<line x1="650.00" y1="410.40" x2="650.00" y2="411.30" stroke="#868686" stroke-width="0.8"/>
<line x1="650.00" y1="425.50" x2="650.00" y2="426.00" stroke="#868686" stroke-width="0.8"/>
<line x1="647.00" y1="410.40" x2="653.00" y2="410.40" stroke="#868686" stroke-width="0.8"/>
<line x1="647.00" y1="426.00" x2="653.00" y2="426.00" stroke="#868686" stroke-width="0.8"/>
<rect x="641.20" y="411.30" width="17.6" height="14.20" fill="url(#boxg)" stroke="#2c6f9c" stroke-width="0.8"/>
<line x1="641.20" y1="415.30" x2="658.80" y2="415.30" stroke="#245f85" stroke-width="0.9"/>
<line x1="672.20" y1="402.40" x2="672.20" y2="409.20" stroke="#868686" stroke-width="0.8"/>
<line x1="672.20" y1="422.30" x2="672.20" y2="426.20" stroke="#868686" stroke-width="0.8"/>
<line x1="669.20" y1="402.40" x2="675.20" y2="402.40" stroke="#868686" stroke-width="0.8"/>
<line x1="669.20" y1="426.20" x2="675.20" y2="426.20" stroke="#868686" stroke-width="0.8"/>
<rect x="663.40" y="409.20" width="17.6" height="13.10" fill="url(#boxg)" stroke="#2c6f9c" stroke-width="0.8"/>
<line x1="663.40" y1="416.90" x2="681.00" y2="416.90" stroke="#245f85" stroke-width="0.9"/>
<line x1="574.00" y1="416.90" x2="684.00" y2="416.90" stroke="#e38893" stroke-width="1.6" stroke-dasharray="3.4,2.5" opacity="0.8"/>
<text x="586.20" y="496.10" font-size="8.9" text-anchor="end" transform="rotate(-45 586.20 496.10)">Gold</text>
<text x="607.90" y="496.10" font-size="8.9" text-anchor="end" transform="rotate(-45 607.90 496.10)">Iron oxide</text>
<text x="629.40" y="496.10" font-size="8.9" text-anchor="end" transform="rotate(-45 629.40 496.10)">Silica</text>
<text x="647.30" y="497.40" font-size="9.5" text-anchor="end" transform="rotate(-45 647.30 497.40)">Quantum</text>
<text x="656.80" y="504.10" font-size="9.5" text-anchor="end" transform="rotate(-45 656.80 504.10)">dots</text>
<text x="677.30" y="496.10" font-size="8.9" text-anchor="end" transform="rotate(-45 677.30 496.10)">Other</text>
<text x="1.00" y="549.90" font-size="10.5" font-weight="bold" fill="#1e1e1e">g</text>
<text x="19.90" y="549.90" font-size="9.7" font-weight="bold" fill="#1e1e1e">Organic material</text>
<rect x="60.30" y="559.90" width="107.30" height="107.90" fill="url(#bgr)"/>
<line x1="60.30" y1="559.90" x2="60.30" y2="667.80" stroke="#8c8c8c" stroke-width="0.9"/>
<line x1="60.30" y1="667.80" x2="167.60" y2="667.80" stroke="#8c8c8c" stroke-width="0.9"/>
<line x1="58.00" y1="559.90" x2="60.30" y2="559.90" stroke="#8c8c8c" stroke-width="0.8"/>
<text x="40.50" y="564.40" font-size="8.8">10<tspan dy="-3.4" font-size="5.8">2</tspan></text>
<line x1="58.00" y1="577.88" x2="60.30" y2="577.88" stroke="#8c8c8c" stroke-width="0.8"/>
<text x="40.50" y="582.38" font-size="8.8">10<tspan dy="-3.4" font-size="5.8">1</tspan></text>
<line x1="58.00" y1="595.87" x2="60.30" y2="595.87" stroke="#8c8c8c" stroke-width="0.8"/>
<text x="40.50" y="600.37" font-size="8.8">10<tspan dy="-3.4" font-size="5.8">0</tspan></text>
<line x1="58.00" y1="613.85" x2="60.30" y2="613.85" stroke="#8c8c8c" stroke-width="0.8"/>
<text x="40.50" y="618.35" font-size="8.8">10<tspan dy="-3.4" font-size="5.8">−1</tspan></text>
<line x1="58.00" y1="631.83" x2="60.30" y2="631.83" stroke="#8c8c8c" stroke-width="0.8"/>
<text x="40.50" y="636.33" font-size="8.8">10<tspan dy="-3.4" font-size="5.8">−2</tspan></text>
<line x1="58.00" y1="649.82" x2="60.30" y2="649.82" stroke="#8c8c8c" stroke-width="0.8"/>
<text x="40.50" y="654.32" font-size="8.8">10<tspan dy="-3.4" font-size="5.8">−3</tspan></text>
<line x1="58.00" y1="667.80" x2="60.30" y2="667.80" stroke="#8c8c8c" stroke-width="0.8"/>
<text x="40.50" y="672.30" font-size="8.8">10<tspan dy="-3.4" font-size="5.8">−4</tspan></text>
<line x1="71.20" y1="667.80" x2="71.20" y2="671.80" stroke="#a0a0a0" stroke-width="0.8"/>
<line x1="92.70" y1="667.80" x2="92.70" y2="671.80" stroke="#a0a0a0" stroke-width="0.8"/>
<line x1="114.00" y1="667.80" x2="114.00" y2="671.80" stroke="#a0a0a0" stroke-width="0.8"/>
<line x1="135.00" y1="667.80" x2="135.00" y2="671.80" stroke="#a0a0a0" stroke-width="0.8"/>
<line x1="156.90" y1="667.80" x2="156.90" y2="671.80" stroke="#a0a0a0" stroke-width="0.8"/>
<line x1="71.20" y1="577.90" x2="71.20" y2="580.20" stroke="#868686" stroke-width="0.8"/>
<line x1="71.20" y1="604.70" x2="71.20" y2="632.10" stroke="#868686" stroke-width="0.8"/>
<line x1="68.20" y1="577.90" x2="74.20" y2="577.90" stroke="#868686" stroke-width="0.8"/>
<line x1="68.20" y1="632.10" x2="74.20" y2="632.10" stroke="#868686" stroke-width="0.8"/>
<rect x="62.40" y="580.20" width="17.6" height="24.50" fill="url(#boxg)" stroke="#2c6f9c" stroke-width="0.8"/>
<line x1="62.40" y1="593.10" x2="80.00" y2="593.10" stroke="#245f85" stroke-width="0.9"/>
<line x1="92.70" y1="580.20" x2="92.70" y2="590.70" stroke="#868686" stroke-width="0.8"/>
<line x1="92.70" y1="607.80" x2="92.70" y2="614.10" stroke="#868686" stroke-width="0.8"/>
<line x1="89.70" y1="580.20" x2="95.70" y2="580.20" stroke="#868686" stroke-width="0.8"/>
<line x1="89.70" y1="614.10" x2="95.70" y2="614.10" stroke="#868686" stroke-width="0.8"/>
<rect x="83.90" y="590.70" width="17.6" height="17.10" fill="url(#boxg)" stroke="#2c6f9c" stroke-width="0.8"/>
<line x1="83.90" y1="601.20" x2="101.50" y2="601.20" stroke="#245f85" stroke-width="0.9"/>
<line x1="114.00" y1="584.40" x2="114.00" y2="596.10" stroke="#868686" stroke-width="0.8"/>
<line x1="114.00" y1="609.00" x2="114.00" y2="662.00" stroke="#868686" stroke-width="0.8"/>
<line x1="111.00" y1="584.40" x2="117.00" y2="584.40" stroke="#868686" stroke-width="0.8"/>
<line x1="111.00" y1="662.00" x2="117.00" y2="662.00" stroke="#868686" stroke-width="0.8"/>
<rect x="105.20" y="596.10" width="17.6" height="12.90" fill="url(#boxg)" stroke="#2c6f9c" stroke-width="0.8"/>
<line x1="105.20" y1="599.60" x2="122.80" y2="599.60" stroke="#245f85" stroke-width="0.9"/>
<line x1="135.00" y1="588.40" x2="135.00" y2="594.70" stroke="#868686" stroke-width="0.8"/>
<line x1="135.00" y1="609.00" x2="135.00" y2="614.10" stroke="#868686" stroke-width="0.8"/>
<line x1="132.00" y1="588.40" x2="138.00" y2="588.40" stroke="#868686" stroke-width="0.8"/>
<line x1="132.00" y1="614.10" x2="138.00" y2="614.10" stroke="#868686" stroke-width="0.8"/>
<rect x="126.20" y="594.70" width="17.6" height="14.30" fill="url(#boxg)" stroke="#2c6f9c" stroke-width="0.8"/>
<line x1="126.20" y1="601.20" x2="143.80" y2="601.20" stroke="#245f85" stroke-width="0.9"/>
<line x1="156.90" y1="585.80" x2="156.90" y2="589.80" stroke="#868686" stroke-width="0.8"/>
<line x1="156.90" y1="602.70" x2="156.90" y2="618.90" stroke="#868686" stroke-width="0.8"/>
<line x1="153.90" y1="585.80" x2="159.90" y2="585.80" stroke="#868686" stroke-width="0.8"/>
<line x1="153.90" y1="618.90" x2="159.90" y2="618.90" stroke="#868686" stroke-width="0.8"/>
<rect x="148.10" y="589.80" width="17.6" height="12.90" fill="url(#boxg)" stroke="#2c6f9c" stroke-width="0.8"/>
<line x1="148.10" y1="595.30" x2="165.70" y2="595.30" stroke="#245f85" stroke-width="0.9"/>
<line x1="60.30" y1="599.40" x2="167.60" y2="599.40" stroke="#e38893" stroke-width="1.6" stroke-dasharray="3.4,2.5" opacity="0.8"/>
<text x="29.50" y="613.85" font-size="9.6" text-anchor="middle" textLength="105.00" lengthAdjust="spacingAndGlyphs" transform="rotate(-90 29.50 613.85)">Delivery efficiency (%ID)</text>
<text x="72.80" y="677.60" font-size="8.9" text-anchor="end" transform="rotate(-45 72.80 677.60)">Dendrimers</text>
<text x="94.30" y="677.60" font-size="8.9" text-anchor="end" transform="rotate(-45 94.30 677.60)">Liposomes</text>
<text x="115.60" y="677.60" font-size="8.9" text-anchor="end" transform="rotate(-45 115.60 677.60)">Polymeric</text>
<text x="136.60" y="677.60" font-size="8.9" text-anchor="end" transform="rotate(-45 136.60 677.60)">Hydrogels</text>
<text x="158.50" y="677.60" font-size="8.9" text-anchor="end" transform="rotate(-45 158.50 677.60)">Other</text>
<text x="194.60" y="549.90" font-size="10.5" font-weight="bold" fill="#1e1e1e">h</text>
<text x="212.00" y="549.90" font-size="9.7" font-weight="bold" fill="#1e1e1e">Targeting strategy</text>
<rect x="231.00" y="559.70" width="108.30" height="108.30" fill="url(#bgr)"/>
<line x1="231.00" y1="559.70" x2="231.00" y2="668.00" stroke="#8c8c8c" stroke-width="0.9"/>
<line x1="231.00" y1="668.00" x2="339.30" y2="668.00" stroke="#8c8c8c" stroke-width="0.9"/>
<line x1="228.70" y1="559.70" x2="231.00" y2="559.70" stroke="#8c8c8c" stroke-width="0.8"/>
<text x="211.20" y="564.20" font-size="8.8">10<tspan dy="-3.4" font-size="5.8">2</tspan></text>
<line x1="228.70" y1="577.75" x2="231.00" y2="577.75" stroke="#8c8c8c" stroke-width="0.8"/>
<text x="211.20" y="582.25" font-size="8.8">10<tspan dy="-3.4" font-size="5.8">1</tspan></text>
<line x1="228.70" y1="595.80" x2="231.00" y2="595.80" stroke="#8c8c8c" stroke-width="0.8"/>
<text x="211.20" y="600.30" font-size="8.8">10<tspan dy="-3.4" font-size="5.8">0</tspan></text>
<line x1="228.70" y1="613.85" x2="231.00" y2="613.85" stroke="#8c8c8c" stroke-width="0.8"/>
<text x="211.20" y="618.35" font-size="8.8">10<tspan dy="-3.4" font-size="5.8">−1</tspan></text>
<line x1="228.70" y1="631.90" x2="231.00" y2="631.90" stroke="#8c8c8c" stroke-width="0.8"/>
<text x="211.20" y="636.40" font-size="8.8">10<tspan dy="-3.4" font-size="5.8">−2</tspan></text>
<line x1="228.70" y1="649.95" x2="231.00" y2="649.95" stroke="#8c8c8c" stroke-width="0.8"/>
<text x="211.20" y="654.45" font-size="8.8">10<tspan dy="-3.4" font-size="5.8">−3</tspan></text>
<line x1="228.70" y1="668.00" x2="231.00" y2="668.00" stroke="#8c8c8c" stroke-width="0.8"/>
<text x="211.20" y="672.50" font-size="8.8">10<tspan dy="-3.4" font-size="5.8">−4</tspan></text>
<line x1="259.00" y1="668.00" x2="259.00" y2="672.00" stroke="#a0a0a0" stroke-width="0.8"/>
<line x1="312.30" y1="668.00" x2="312.30" y2="672.00" stroke="#a0a0a0" stroke-width="0.8"/>
<line x1="259.00" y1="575.10" x2="259.00" y2="594.40" stroke="#868686" stroke-width="0.8"/>
<line x1="259.00" y1="609.10" x2="259.00" y2="662.40" stroke="#868686" stroke-width="0.8"/>
<line x1="256.00" y1="575.10" x2="262.00" y2="575.10" stroke="#868686" stroke-width="0.8"/>
<line x1="256.00" y1="662.40" x2="262.00" y2="662.40" stroke="#868686" stroke-width="0.8"/>
<rect x="250.20" y="594.40" width="17.6" height="14.70" fill="url(#boxg)" stroke="#2c6f9c" stroke-width="0.8"/>
<line x1="250.20" y1="599.90" x2="267.80" y2="599.90" stroke="#245f85" stroke-width="0.9"/>
<line x1="312.30" y1="573.50" x2="312.30" y2="590.70" stroke="#868686" stroke-width="0.8"/>
<line x1="312.30" y1="601.40" x2="312.30" y2="644.30" stroke="#868686" stroke-width="0.8"/>
<line x1="309.30" y1="573.50" x2="315.30" y2="573.50" stroke="#868686" stroke-width="0.8"/>
<line x1="309.30" y1="644.30" x2="315.30" y2="644.30" stroke="#868686" stroke-width="0.8"/>
<rect x="303.50" y="590.70" width="17.6" height="10.70" fill="url(#boxg)" stroke="#2c6f9c" stroke-width="0.8"/>
<line x1="303.50" y1="596.80" x2="321.10" y2="596.80" stroke="#245f85" stroke-width="0.9"/>
<line x1="231.00" y1="599.60" x2="339.30" y2="599.60" stroke="#d63c44" stroke-width="1.0" stroke-dasharray="2.7,2.5" opacity="0.8"/>
<text x="260.60" y="677.80" font-size="8.9" text-anchor="end" transform="rotate(-45 260.60 677.80)">Passive</text>
<text x="313.90" y="677.80" font-size="8.9" text-anchor="end" transform="rotate(-45 313.90 677.80)">Active</text>
<text x="360.30" y="549.70" font-size="10.5" font-weight="bold" fill="#1e1e1e">i</text>
<text x="381.50" y="549.70" font-size="9.7" font-weight="bold" fill="#1e1e1e">Hydrodynamic diameter</text>
<rect x="400.80" y="560.10" width="108.30" height="107.90" fill="url(#bgr)"/>
<line x1="400.80" y1="560.10" x2="400.80" y2="668.00" stroke="#8c8c8c" stroke-width="0.9"/>
<line x1="400.80" y1="668.00" x2="509.10" y2="668.00" stroke="#8c8c8c" stroke-width="0.9"/>
<line x1="398.50" y1="560.10" x2="400.80" y2="560.10" stroke="#8c8c8c" stroke-width="0.8"/>
<text x="381.00" y="564.60" font-size="8.8">10<tspan dy="-3.4" font-size="5.8">2</tspan></text>
<line x1="398.50" y1="578.08" x2="400.80" y2="578.08" stroke="#8c8c8c" stroke-width="0.8"/>
<text x="381.00" y="582.58" font-size="8.8">10<tspan dy="-3.4" font-size="5.8">1</tspan></text>
<line x1="398.50" y1="596.07" x2="400.80" y2="596.07" stroke="#8c8c8c" stroke-width="0.8"/>
<text x="381.00" y="600.57" font-size="8.8">10<tspan dy="-3.4" font-size="5.8">0</tspan></text>
<line x1="398.50" y1="614.05" x2="400.80" y2="614.05" stroke="#8c8c8c" stroke-width="0.8"/>
<text x="381.00" y="618.55" font-size="8.8">10<tspan dy="-3.4" font-size="5.8">−1</tspan></text>
<line x1="398.50" y1="632.03" x2="400.80" y2="632.03" stroke="#8c8c8c" stroke-width="0.8"/>
<text x="381.00" y="636.53" font-size="8.8">10<tspan dy="-3.4" font-size="5.8">−2</tspan></text>
<line x1="398.50" y1="650.02" x2="400.80" y2="650.02" stroke="#8c8c8c" stroke-width="0.8"/>
<text x="381.00" y="654.52" font-size="8.8">10<tspan dy="-3.4" font-size="5.8">−3</tspan></text>
<line x1="398.50" y1="668.00" x2="400.80" y2="668.00" stroke="#8c8c8c" stroke-width="0.8"/>
<text x="381.00" y="672.50" font-size="8.8">10<tspan dy="-3.4" font-size="5.8">−4</tspan></text>
<line x1="414.00" y1="668.00" x2="414.00" y2="672.00" stroke="#a0a0a0" stroke-width="0.8"/>
<line x1="441.70" y1="668.00" x2="441.70" y2="672.00" stroke="#a0a0a0" stroke-width="0.8"/>
<line x1="468.70" y1="668.00" x2="468.70" y2="672.00" stroke="#a0a0a0" stroke-width="0.8"/>
<line x1="495.90" y1="668.00" x2="495.90" y2="672.00" stroke="#a0a0a0" stroke-width="0.8"/>
<line x1="414.00" y1="577.70" x2="414.00" y2="590.70" stroke="#868686" stroke-width="0.8"/>
<line x1="414.00" y1="609.00" x2="414.00" y2="644.40" stroke="#868686" stroke-width="0.8"/>
<line x1="411.00" y1="577.70" x2="417.00" y2="577.70" stroke="#868686" stroke-width="0.8"/>
<line x1="411.00" y1="644.40" x2="417.00" y2="644.40" stroke="#868686" stroke-width="0.8"/>
<rect x="405.20" y="590.70" width="17.6" height="18.30" fill="url(#boxg)" stroke="#2c6f9c" stroke-width="0.8"/>
<line x1="405.20" y1="598.60" x2="422.80" y2="598.60" stroke="#245f85" stroke-width="0.9"/>
<line x1="441.70" y1="572.10" x2="441.70" y2="593.10" stroke="#868686" stroke-width="0.8"/>
<line x1="441.70" y1="605.10" x2="441.70" y2="662.00" stroke="#868686" stroke-width="0.8"/>
<line x1="438.70" y1="572.10" x2="444.70" y2="572.10" stroke="#868686" stroke-width="0.8"/>
<line x1="438.70" y1="662.00" x2="444.70" y2="662.00" stroke="#868686" stroke-width="0.8"/>
<rect x="432.90" y="593.10" width="17.6" height="12.00" fill="url(#boxg)" stroke="#2c6f9c" stroke-width="0.8"/>
<line x1="432.90" y1="598.60" x2="450.50" y2="598.60" stroke="#245f85" stroke-width="0.9"/>
<line x1="468.70" y1="578.20" x2="468.70" y2="594.30" stroke="#868686" stroke-width="0.8"/>
<line x1="468.70" y1="602.30" x2="468.70" y2="613.80" stroke="#868686" stroke-width="0.8"/>
<line x1="465.70" y1="578.20" x2="471.70" y2="578.20" stroke="#868686" stroke-width="0.8"/>
<line x1="465.70" y1="613.80" x2="471.70" y2="613.80" stroke="#868686" stroke-width="0.8"/>
<rect x="459.90" y="594.30" width="17.6" height="8.00" fill="url(#boxg)" stroke="#2c6f9c" stroke-width="0.8"/>
<line x1="459.90" y1="599.80" x2="477.50" y2="599.80" stroke="#245f85" stroke-width="0.9"/>
<line x1="495.90" y1="585.90" x2="495.90" y2="593.10" stroke="#868686" stroke-width="0.8"/>
<line x1="495.90" y1="613.80" x2="495.90" y2="649.90" stroke="#868686" stroke-width="0.8"/>
<line x1="492.90" y1="585.90" x2="498.90" y2="585.90" stroke="#868686" stroke-width="0.8"/>
<line x1="492.90" y1="649.90" x2="498.90" y2="649.90" stroke="#868686" stroke-width="0.8"/>
<rect x="487.10" y="593.10" width="17.6" height="20.70" fill="url(#boxg)" stroke="#2c6f9c" stroke-width="0.8"/>
<line x1="487.10" y1="602.30" x2="504.70" y2="602.30" stroke="#245f85" stroke-width="0.9"/>
<line x1="400.80" y1="599.80" x2="509.10" y2="599.80" stroke="#d63c44" stroke-width="1.0" stroke-dasharray="2.7,2.5" opacity="0.8"/>
<text x="415.60" y="677.80" font-size="9.0" text-anchor="end" transform="rotate(-45 415.60 677.80)">&lt;10 nm</text>
<text x="443.30" y="677.80" font-size="9.0" text-anchor="end" transform="rotate(-45 443.30 677.80)">10–100 nm</text>
<text x="470.30" y="677.80" font-size="9.0" text-anchor="end" transform="rotate(-45 470.30 677.80)">101–200 nm</text>
<text x="497.50" y="677.80" font-size="9.0" text-anchor="end" transform="rotate(-45 497.50 677.80)">&gt;200 nm</text>
<text x="541.20" y="549.70" font-size="10.5" font-weight="bold" fill="#1e1e1e">j</text>
<text x="554.90" y="549.70" font-size="9.7" font-weight="bold" fill="#1e1e1e">Zeta potential</text>
<rect x="575.40" y="558.40" width="108.60" height="108.40" fill="url(#bgr)"/>
<line x1="575.40" y1="558.40" x2="575.40" y2="666.80" stroke="#8c8c8c" stroke-width="0.9"/>
<line x1="575.40" y1="666.80" x2="684.00" y2="666.80" stroke="#8c8c8c" stroke-width="0.9"/>
<line x1="573.10" y1="558.40" x2="575.40" y2="558.40" stroke="#8c8c8c" stroke-width="0.8"/>
<text x="555.60" y="562.90" font-size="8.8">10<tspan dy="-3.4" font-size="5.8">2</tspan></text>
<line x1="573.10" y1="576.47" x2="575.40" y2="576.47" stroke="#8c8c8c" stroke-width="0.8"/>
<text x="555.60" y="580.97" font-size="8.8">10<tspan dy="-3.4" font-size="5.8">1</tspan></text>
<line x1="573.10" y1="594.53" x2="575.40" y2="594.53" stroke="#8c8c8c" stroke-width="0.8"/>
<text x="555.60" y="599.03" font-size="8.8">10<tspan dy="-3.4" font-size="5.8">0</tspan></text>
<line x1="573.10" y1="612.60" x2="575.40" y2="612.60" stroke="#8c8c8c" stroke-width="0.8"/>
<text x="555.60" y="617.10" font-size="8.8">10<tspan dy="-3.4" font-size="5.8">−1</tspan></text>
<line x1="573.10" y1="630.67" x2="575.40" y2="630.67" stroke="#8c8c8c" stroke-width="0.8"/>
<text x="555.60" y="635.17" font-size="8.8">10<tspan dy="-3.4" font-size="5.8">−2</tspan></text>
<line x1="573.10" y1="648.73" x2="575.40" y2="648.73" stroke="#8c8c8c" stroke-width="0.8"/>
<text x="555.60" y="653.23" font-size="8.8">10<tspan dy="-3.4" font-size="5.8">−3</tspan></text>
<line x1="573.10" y1="666.80" x2="575.40" y2="666.80" stroke="#8c8c8c" stroke-width="0.8"/>
<text x="555.60" y="671.30" font-size="8.8">10<tspan dy="-3.4" font-size="5.8">−4</tspan></text>
<line x1="591.80" y1="666.80" x2="591.80" y2="670.80" stroke="#a0a0a0" stroke-width="0.8"/>
<line x1="628.90" y1="666.80" x2="628.90" y2="670.80" stroke="#a0a0a0" stroke-width="0.8"/>
<line x1="663.80" y1="666.80" x2="663.80" y2="670.80" stroke="#a0a0a0" stroke-width="0.8"/>
<line x1="591.80" y1="573.40" x2="591.80" y2="589.50" stroke="#868686" stroke-width="0.8"/>
<line x1="591.80" y1="608.30" x2="591.80" y2="662.00" stroke="#868686" stroke-width="0.8"/>
<line x1="588.80" y1="573.40" x2="594.80" y2="573.40" stroke="#868686" stroke-width="0.8"/>
<line x1="588.80" y1="662.00" x2="594.80" y2="662.00" stroke="#868686" stroke-width="0.8"/>
<rect x="583.00" y="589.50" width="17.6" height="18.80" fill="url(#boxg)" stroke="#2c6f9c" stroke-width="0.8"/>
<line x1="583.00" y1="599.80" x2="600.60" y2="599.80" stroke="#245f85" stroke-width="0.9"/>
<line x1="628.90" y1="571.40" x2="628.90" y2="593.10" stroke="#868686" stroke-width="0.8"/>
<line x1="628.90" y1="604.20" x2="628.90" y2="643.20" stroke="#868686" stroke-width="0.8"/>
<line x1="625.90" y1="571.40" x2="631.90" y2="571.40" stroke="#868686" stroke-width="0.8"/>
<line x1="625.90" y1="643.20" x2="631.90" y2="643.20" stroke="#868686" stroke-width="0.8"/>
<rect x="620.10" y="593.10" width="17.6" height="11.10" fill="url(#boxg)" stroke="#2c6f9c" stroke-width="0.8"/>
<line x1="620.10" y1="597.40" x2="637.70" y2="597.40" stroke="#245f85" stroke-width="0.9"/>
<line x1="663.80" y1="585.90" x2="663.80" y2="595.00" stroke="#868686" stroke-width="0.8"/>
<line x1="663.80" y1="602.70" x2="663.80" y2="612.60" stroke="#868686" stroke-width="0.8"/>
<line x1="660.80" y1="585.90" x2="666.80" y2="585.90" stroke="#868686" stroke-width="0.8"/>
<line x1="660.80" y1="612.60" x2="666.80" y2="612.60" stroke="#868686" stroke-width="0.8"/>
<rect x="655.00" y="595.00" width="17.6" height="7.70" fill="url(#boxg)" stroke="#2c6f9c" stroke-width="0.8"/>
<line x1="655.00" y1="598.60" x2="672.60" y2="598.60" stroke="#245f85" stroke-width="0.9"/>
<line x1="575.40" y1="598.60" x2="684.00" y2="598.60" stroke="#d63c44" stroke-width="1.0" stroke-dasharray="2.7,2.5" opacity="0.8"/>
<text x="593.40" y="676.60" font-size="8.9" text-anchor="end" transform="rotate(-45 593.40 676.60)">Negative</text>
<text x="630.50" y="676.60" font-size="8.9" text-anchor="end" transform="rotate(-45 630.50 676.60)">Neutral</text>
<text x="665.40" y="676.60" font-size="8.9" text-anchor="end" transform="rotate(-45 665.40 676.60)">Positive</text>
<text x="1.30" y="727.80" font-size="10.5" font-weight="bold" fill="#1e1e1e">k</text>
<text x="19.90" y="727.80" font-size="9.7" font-weight="bold" fill="#1e1e1e">Shape</text>
<rect x="59.50" y="738.00" width="107.80" height="108.60" fill="url(#bgr)"/>
<line x1="59.50" y1="738.00" x2="59.50" y2="846.60" stroke="#8c8c8c" stroke-width="0.9"/>
<line x1="59.50" y1="846.60" x2="167.30" y2="846.60" stroke="#8c8c8c" stroke-width="0.9"/>
<line x1="57.20" y1="738.00" x2="59.50" y2="738.00" stroke="#8c8c8c" stroke-width="0.8"/>
<text x="39.70" y="742.50" font-size="8.8">10<tspan dy="-3.4" font-size="5.8">2</tspan></text>
<line x1="57.20" y1="756.10" x2="59.50" y2="756.10" stroke="#8c8c8c" stroke-width="0.8"/>
<text x="39.70" y="760.60" font-size="8.8">10<tspan dy="-3.4" font-size="5.8">1</tspan></text>
<line x1="57.20" y1="774.20" x2="59.50" y2="774.20" stroke="#8c8c8c" stroke-width="0.8"/>
<text x="39.70" y="778.70" font-size="8.8">10<tspan dy="-3.4" font-size="5.8">0</tspan></text>
<line x1="57.20" y1="792.30" x2="59.50" y2="792.30" stroke="#8c8c8c" stroke-width="0.8"/>
<text x="39.70" y="796.80" font-size="8.8">10<tspan dy="-3.4" font-size="5.8">−1</tspan></text>
<line x1="57.20" y1="810.40" x2="59.50" y2="810.40" stroke="#8c8c8c" stroke-width="0.8"/>
<text x="39.70" y="814.90" font-size="8.8">10<tspan dy="-3.4" font-size="5.8">−2</tspan></text>
<line x1="57.20" y1="828.50" x2="59.50" y2="828.50" stroke="#8c8c8c" stroke-width="0.8"/>
<text x="39.70" y="833.00" font-size="8.8">10<tspan dy="-3.4" font-size="5.8">−3</tspan></text>
<line x1="57.20" y1="846.60" x2="59.50" y2="846.60" stroke="#8c8c8c" stroke-width="0.8"/>
<text x="39.70" y="851.10" font-size="8.8">10<tspan dy="-3.4" font-size="5.8">−4</tspan></text>
<line x1="73.30" y1="846.60" x2="73.30" y2="850.60" stroke="#a0a0a0" stroke-width="0.8"/>
<line x1="100.20" y1="846.60" x2="100.20" y2="850.60" stroke="#a0a0a0" stroke-width="0.8"/>
<line x1="127.20" y1="846.60" x2="127.20" y2="850.60" stroke="#a0a0a0" stroke-width="0.8"/>
<line x1="154.10" y1="846.60" x2="154.10" y2="850.60" stroke="#a0a0a0" stroke-width="0.8"/>
<line x1="73.30" y1="750.80" x2="73.30" y2="772.50" stroke="#868686" stroke-width="0.8"/>
<line x1="73.30" y1="784.00" x2="73.30" y2="840.70" stroke="#868686" stroke-width="0.8"/>
<line x1="70.30" y1="750.80" x2="76.30" y2="750.80" stroke="#868686" stroke-width="0.8"/>
<line x1="70.30" y1="840.70" x2="76.30" y2="840.70" stroke="#868686" stroke-width="0.8"/>
<rect x="64.50" y="772.50" width="17.6" height="11.50" fill="url(#boxg)" stroke="#2c6f9c" stroke-width="0.8"/>
<line x1="64.50" y1="776.30" x2="82.10" y2="776.30" stroke="#245f85" stroke-width="0.9"/>
<line x1="100.20" y1="764.10" x2="100.20" y2="769.20" stroke="#868686" stroke-width="0.8"/>
<line x1="100.20" y1="792.20" x2="100.20" y2="827.90" stroke="#868686" stroke-width="0.8"/>
<line x1="97.20" y1="764.10" x2="103.20" y2="764.10" stroke="#868686" stroke-width="0.8"/>
<line x1="97.20" y1="827.90" x2="103.20" y2="827.90" stroke="#868686" stroke-width="0.8"/>
<rect x="91.40" y="769.20" width="17.6" height="23.00" fill="url(#boxg)" stroke="#2c6f9c" stroke-width="0.8"/>
<line x1="91.40" y1="776.30" x2="109.00" y2="776.30" stroke="#245f85" stroke-width="0.9"/>
<line x1="127.20" y1="767.90" x2="127.20" y2="775.60" stroke="#868686" stroke-width="0.8"/>
<line x1="127.20" y1="781.40" x2="127.20" y2="787.30" stroke="#868686" stroke-width="0.8"/>
<line x1="124.20" y1="767.90" x2="130.20" y2="767.90" stroke="#868686" stroke-width="0.8"/>
<line x1="124.20" y1="787.30" x2="130.20" y2="787.30" stroke="#868686" stroke-width="0.8"/>
<rect x="118.40" y="775.60" width="17.6" height="5.80" fill="url(#boxg)" stroke="#2c6f9c" stroke-width="0.8"/>
<line x1="118.40" y1="777.60" x2="136.00" y2="777.60" stroke="#245f85" stroke-width="0.9"/>
<line x1="154.10" y1="766.10" x2="154.10" y2="768.10" stroke="#868686" stroke-width="0.8"/>
<line x1="154.10" y1="781.40" x2="154.10" y2="784.00" stroke="#868686" stroke-width="0.8"/>
<line x1="151.10" y1="766.10" x2="157.10" y2="766.10" stroke="#868686" stroke-width="0.8"/>
<line x1="151.10" y1="784.00" x2="157.10" y2="784.00" stroke="#868686" stroke-width="0.8"/>
<rect x="145.30" y="768.10" width="17.6" height="13.30" fill="url(#boxg)" stroke="#2c6f9c" stroke-width="0.8"/>
<line x1="145.30" y1="776.80" x2="162.90" y2="776.80" stroke="#245f85" stroke-width="0.9"/>
<line x1="59.50" y1="777.60" x2="167.30" y2="777.60" stroke="#e38893" stroke-width="1.6" stroke-dasharray="3.4,2.5" opacity="0.8"/>
<text x="28.70" y="792.30" font-size="9.6" text-anchor="middle" textLength="105.00" lengthAdjust="spacingAndGlyphs" transform="rotate(-90 28.70 792.30)">Delivery efficiency (%ID)</text>
<text x="74.90" y="856.40" font-size="8.9" text-anchor="end" transform="rotate(-45 74.90 856.40)">Spherical</text>
<text x="101.80" y="856.40" font-size="8.9" text-anchor="end" transform="rotate(-45 101.80 856.40)">Rod</text>
<text x="128.80" y="856.40" font-size="8.9" text-anchor="end" transform="rotate(-45 128.80 856.40)">Plate or flake</text>
<text x="155.70" y="856.40" font-size="8.9" text-anchor="end" transform="rotate(-45 155.70 856.40)">Other</text>
<text x="193.90" y="727.80" font-size="10.5" font-weight="bold" fill="#1e1e1e">l</text>
<text x="211.80" y="727.80" font-size="9.7" font-weight="bold" fill="#1e1e1e">Tumour model</text>
<rect x="231.00" y="738.00" width="123.90" height="108.60" fill="url(#bgr)"/>
<line x1="231.00" y1="738.00" x2="231.00" y2="846.60" stroke="#8c8c8c" stroke-width="0.9"/>
<line x1="231.00" y1="846.60" x2="354.90" y2="846.60" stroke="#8c8c8c" stroke-width="0.9"/>
<line x1="228.70" y1="738.00" x2="231.00" y2="738.00" stroke="#8c8c8c" stroke-width="0.8"/>
<text x="211.20" y="742.50" font-size="8.8">10<tspan dy="-3.4" font-size="5.8">2</tspan></text>
<line x1="228.70" y1="756.10" x2="231.00" y2="756.10" stroke="#8c8c8c" stroke-width="0.8"/>
<text x="211.20" y="760.60" font-size="8.8">10<tspan dy="-3.4" font-size="5.8">1</tspan></text>
<line x1="228.70" y1="774.20" x2="231.00" y2="774.20" stroke="#8c8c8c" stroke-width="0.8"/>
<text x="211.20" y="778.70" font-size="8.8">10<tspan dy="-3.4" font-size="5.8">0</tspan></text>
<line x1="228.70" y1="792.30" x2="231.00" y2="792.30" stroke="#8c8c8c" stroke-width="0.8"/>
<text x="211.20" y="796.80" font-size="8.8">10<tspan dy="-3.4" font-size="5.8">−1</tspan></text>
<line x1="228.70" y1="810.40" x2="231.00" y2="810.40" stroke="#8c8c8c" stroke-width="0.8"/>
<text x="211.20" y="814.90" font-size="8.8">10<tspan dy="-3.4" font-size="5.8">−2</tspan></text>
<line x1="228.70" y1="828.50" x2="231.00" y2="828.50" stroke="#8c8c8c" stroke-width="0.8"/>
<text x="211.20" y="833.00" font-size="8.8">10<tspan dy="-3.4" font-size="5.8">−3</tspan></text>
<line x1="228.70" y1="846.60" x2="231.00" y2="846.60" stroke="#8c8c8c" stroke-width="0.8"/>
<text x="211.20" y="851.10" font-size="8.8">10<tspan dy="-3.4" font-size="5.8">−4</tspan></text>
<line x1="244.50" y1="846.60" x2="244.50" y2="850.60" stroke="#a0a0a0" stroke-width="0.8"/>
<line x1="276.50" y1="846.60" x2="276.50" y2="850.60" stroke="#a0a0a0" stroke-width="0.8"/>
<line x1="308.90" y1="846.60" x2="308.90" y2="850.60" stroke="#a0a0a0" stroke-width="0.8"/>
<line x1="340.90" y1="846.60" x2="340.90" y2="850.60" stroke="#a0a0a0" stroke-width="0.8"/>
<line x1="244.50" y1="758.40" x2="244.50" y2="772.50" stroke="#868686" stroke-width="0.8"/>
<line x1="244.50" y1="787.30" x2="244.50" y2="810.30" stroke="#868686" stroke-width="0.8"/>
<line x1="241.50" y1="758.40" x2="247.50" y2="758.40" stroke="#868686" stroke-width="0.8"/>
<line x1="241.50" y1="810.30" x2="247.50" y2="810.30" stroke="#868686" stroke-width="0.8"/>
<rect x="235.70" y="772.50" width="17.6" height="14.80" fill="url(#boxg)" stroke="#2c6f9c" stroke-width="0.8"/>
<line x1="235.70" y1="778.90" x2="253.30" y2="778.90" stroke="#245f85" stroke-width="0.9"/>
<line x1="276.50" y1="762.30" x2="276.50" y2="768.10" stroke="#868686" stroke-width="0.8"/>
<line x1="276.50" y1="782.70" x2="276.50" y2="810.30" stroke="#868686" stroke-width="0.8"/>
<line x1="273.50" y1="762.30" x2="279.50" y2="762.30" stroke="#868686" stroke-width="0.8"/>
<line x1="273.50" y1="810.30" x2="279.50" y2="810.30" stroke="#868686" stroke-width="0.8"/>
<rect x="267.70" y="768.10" width="17.6" height="14.60" fill="url(#boxg)" stroke="#2c6f9c" stroke-width="0.8"/>
<line x1="267.70" y1="773.30" x2="285.30" y2="773.30" stroke="#245f85" stroke-width="0.9"/>
<line x1="308.90" y1="757.20" x2="308.90" y2="772.50" stroke="#868686" stroke-width="0.8"/>
<line x1="308.90" y1="786.50" x2="308.90" y2="822.30" stroke="#868686" stroke-width="0.8"/>
<line x1="305.90" y1="757.20" x2="311.90" y2="757.20" stroke="#868686" stroke-width="0.8"/>
<line x1="305.90" y1="822.30" x2="311.90" y2="822.30" stroke="#868686" stroke-width="0.8"/>
<rect x="300.10" y="772.50" width="17.6" height="14.00" fill="url(#boxg)" stroke="#2c6f9c" stroke-width="0.8"/>
<line x1="300.10" y1="778.10" x2="317.70" y2="778.10" stroke="#245f85" stroke-width="0.9"/>
<line x1="340.90" y1="751.30" x2="340.90" y2="763.00" stroke="#868686" stroke-width="0.8"/>
<line x1="340.90" y1="784.50" x2="340.90" y2="840.70" stroke="#868686" stroke-width="0.8"/>
<line x1="337.90" y1="751.30" x2="343.90" y2="751.30" stroke="#868686" stroke-width="0.8"/>
<line x1="337.90" y1="840.70" x2="343.90" y2="840.70" stroke="#868686" stroke-width="0.8"/>
<rect x="332.10" y="763.00" width="17.6" height="21.50" fill="url(#boxg)" stroke="#2c6f9c" stroke-width="0.8"/>
<line x1="332.10" y1="773.30" x2="349.70" y2="773.30" stroke="#245f85" stroke-width="0.9"/>
<line x1="231.00" y1="777.60" x2="354.90" y2="777.60" stroke="#e38893" stroke-width="1.6" stroke-dasharray="3.4,2.5" opacity="0.8"/>
<text x="245.60" y="856.70" font-size="9.5" text-anchor="end" transform="rotate(-45 245.60 856.70)">Allograft</text>
<text x="254.30" y="863.20" font-size="9.5" text-anchor="end" transform="rotate(-45 254.30 863.20)">heterotopic</text>
<text x="277.60" y="856.70" font-size="9.5" text-anchor="end" transform="rotate(-45 277.60 856.70)">Allograft</text>
<text x="286.30" y="863.20" font-size="9.5" text-anchor="end" transform="rotate(-45 286.30 863.20)">orthotopic</text>
<text x="310.00" y="856.70" font-size="9.5" text-anchor="end" transform="rotate(-45 310.00 856.70)">Xenograft</text>
<text x="318.70" y="863.20" font-size="9.5" text-anchor="end" transform="rotate(-45 318.70 863.20)">heterotopic</text>
<text x="342.00" y="856.70" font-size="9.5" text-anchor="end" transform="rotate(-45 342.00 856.70)">Xenograft</text>
<text x="350.70" y="863.20" font-size="9.5" text-anchor="end" transform="rotate(-45 350.70 863.20)">orthotopic</text>
<text x="360.10" y="727.80" font-size="10.5" font-weight="bold" fill="#1e1e1e">m</text>
<text x="378.80" y="727.80" font-size="9.7" font-weight="bold" fill="#1e1e1e">Cancer type</text>
<rect x="402.30" y="737.50" width="282.70" height="107.80" fill="url(#bgr)"/>
<line x1="402.30" y1="737.50" x2="402.30" y2="845.30" stroke="#8c8c8c" stroke-width="0.9"/>
<line x1="402.30" y1="845.30" x2="685.00" y2="845.30" stroke="#8c8c8c" stroke-width="0.9"/>
<line x1="400.00" y1="737.50" x2="402.30" y2="737.50" stroke="#8c8c8c" stroke-width="0.8"/>
<text x="382.50" y="742.00" font-size="8.8">10<tspan dy="-3.4" font-size="5.8">2</tspan></text>
<line x1="400.00" y1="755.47" x2="402.30" y2="755.47" stroke="#8c8c8c" stroke-width="0.8"/>
<text x="382.50" y="759.97" font-size="8.8">10<tspan dy="-3.4" font-size="5.8">1</tspan></text>
<line x1="400.00" y1="773.43" x2="402.30" y2="773.43" stroke="#8c8c8c" stroke-width="0.8"/>
<text x="382.50" y="777.93" font-size="8.8">10<tspan dy="-3.4" font-size="5.8">0</tspan></text>
<line x1="400.00" y1="791.40" x2="402.30" y2="791.40" stroke="#8c8c8c" stroke-width="0.8"/>
<text x="382.50" y="795.90" font-size="8.8">10<tspan dy="-3.4" font-size="5.8">−1</tspan></text>
<line x1="400.00" y1="809.37" x2="402.30" y2="809.37" stroke="#8c8c8c" stroke-width="0.8"/>
<text x="382.50" y="813.87" font-size="8.8">10<tspan dy="-3.4" font-size="5.8">−2</tspan></text>
<line x1="400.00" y1="827.33" x2="402.30" y2="827.33" stroke="#8c8c8c" stroke-width="0.8"/>
<text x="382.50" y="831.83" font-size="8.8">10<tspan dy="-3.4" font-size="5.8">−3</tspan></text>
<line x1="400.00" y1="845.30" x2="402.30" y2="845.30" stroke="#8c8c8c" stroke-width="0.8"/>
<text x="382.50" y="849.80" font-size="8.8">10<tspan dy="-3.4" font-size="5.8">−4</tspan></text>
<line x1="415.60" y1="845.30" x2="415.60" y2="849.30" stroke="#a0a0a0" stroke-width="0.8"/>
<line x1="443.70" y1="845.30" x2="443.70" y2="849.30" stroke="#a0a0a0" stroke-width="0.8"/>
<line x1="472.00" y1="845.30" x2="472.00" y2="849.30" stroke="#a0a0a0" stroke-width="0.8"/>
<line x1="500.10" y1="845.30" x2="500.10" y2="849.30" stroke="#a0a0a0" stroke-width="0.8"/>
<line x1="528.40" y1="845.30" x2="528.40" y2="849.30" stroke="#a0a0a0" stroke-width="0.8"/>
<line x1="556.50" y1="845.30" x2="556.50" y2="849.30" stroke="#a0a0a0" stroke-width="0.8"/>
<line x1="584.60" y1="845.30" x2="584.60" y2="849.30" stroke="#a0a0a0" stroke-width="0.8"/>
<line x1="613.00" y1="845.30" x2="613.00" y2="849.30" stroke="#a0a0a0" stroke-width="0.8"/>
<line x1="641.10" y1="845.30" x2="641.10" y2="849.30" stroke="#a0a0a0" stroke-width="0.8"/>
<line x1="668.90" y1="845.30" x2="668.90" y2="849.30" stroke="#a0a0a0" stroke-width="0.8"/>
<line x1="415.60" y1="761.50" x2="415.60" y2="771.20" stroke="#868686" stroke-width="0.8"/>
<line x1="415.60" y1="782.70" x2="415.60" y2="809.50" stroke="#868686" stroke-width="0.8"/>
<line x1="412.60" y1="761.50" x2="418.60" y2="761.50" stroke="#868686" stroke-width="0.8"/>
<line x1="412.60" y1="809.50" x2="418.60" y2="809.50" stroke="#868686" stroke-width="0.8"/>
<rect x="406.80" y="771.20" width="17.6" height="11.50" fill="url(#boxg)" stroke="#2c6f9c" stroke-width="0.8"/>
<line x1="406.80" y1="774.50" x2="424.40" y2="774.50" stroke="#245f85" stroke-width="0.9"/>
<line x1="443.70" y1="761.50" x2="443.70" y2="771.20" stroke="#868686" stroke-width="0.8"/>
<line x1="443.70" y1="780.70" x2="443.70" y2="816.40" stroke="#868686" stroke-width="0.8"/>
<line x1="440.70" y1="761.50" x2="446.70" y2="761.50" stroke="#868686" stroke-width="0.8"/>
<line x1="440.70" y1="816.40" x2="446.70" y2="816.40" stroke="#868686" stroke-width="0.8"/>
<rect x="434.90" y="771.20" width="17.6" height="9.50" fill="url(#boxg)" stroke="#2c6f9c" stroke-width="0.8"/>
<line x1="434.90" y1="777.10" x2="452.50" y2="777.10" stroke="#245f85" stroke-width="0.9"/>
<line x1="472.00" y1="757.20" x2="472.00" y2="768.70" stroke="#868686" stroke-width="0.8"/>
<line x1="472.00" y1="778.90" x2="472.00" y2="800.60" stroke="#868686" stroke-width="0.8"/>
<line x1="469.00" y1="757.20" x2="475.00" y2="757.20" stroke="#868686" stroke-width="0.8"/>
<line x1="469.00" y1="800.60" x2="475.00" y2="800.60" stroke="#868686" stroke-width="0.8"/>
<rect x="463.20" y="768.70" width="17.6" height="10.20" fill="url(#boxg)" stroke="#2c6f9c" stroke-width="0.8"/>
<line x1="463.20" y1="776.30" x2="480.80" y2="776.30" stroke="#245f85" stroke-width="0.9"/>
<line x1="500.10" y1="758.40" x2="500.10" y2="773.00" stroke="#868686" stroke-width="0.8"/>
<line x1="500.10" y1="782.70" x2="500.10" y2="791.10" stroke="#868686" stroke-width="0.8"/>
<line x1="497.10" y1="758.40" x2="503.10" y2="758.40" stroke="#868686" stroke-width="0.8"/>
<line x1="497.10" y1="791.10" x2="503.10" y2="791.10" stroke="#868686" stroke-width="0.8"/>
<rect x="491.30" y="773.00" width="17.6" height="9.70" fill="url(#boxg)" stroke="#2c6f9c" stroke-width="0.8"/>
<line x1="491.30" y1="777.10" x2="508.90" y2="777.10" stroke="#245f85" stroke-width="0.9"/>
<line x1="528.40" y1="765.30" x2="528.40" y2="772.00" stroke="#868686" stroke-width="0.8"/>
<line x1="528.40" y1="780.10" x2="528.40" y2="791.10" stroke="#868686" stroke-width="0.8"/>
<line x1="525.40" y1="765.30" x2="531.40" y2="765.30" stroke="#868686" stroke-width="0.8"/>
<line x1="525.40" y1="791.10" x2="531.40" y2="791.10" stroke="#868686" stroke-width="0.8"/>
<rect x="519.60" y="772.00" width="17.6" height="8.10" fill="url(#boxg)" stroke="#2c6f9c" stroke-width="0.8"/>
<line x1="519.60" y1="775.80" x2="537.20" y2="775.80" stroke="#245f85" stroke-width="0.9"/>
<line x1="556.50" y1="763.00" x2="556.50" y2="771.20" stroke="#868686" stroke-width="0.8"/>
<line x1="556.50" y1="792.90" x2="556.50" y2="827.40" stroke="#868686" stroke-width="0.8"/>
<line x1="553.50" y1="763.00" x2="559.50" y2="763.00" stroke="#868686" stroke-width="0.8"/>
<line x1="553.50" y1="827.40" x2="559.50" y2="827.40" stroke="#868686" stroke-width="0.8"/>
<rect x="547.70" y="771.20" width="17.6" height="21.70" fill="url(#boxg)" stroke="#2c6f9c" stroke-width="0.8"/>
<line x1="547.70" y1="791.10" x2="565.30" y2="791.10" stroke="#245f85" stroke-width="0.9"/>
<line x1="584.60" y1="754.60" x2="584.60" y2="763.00" stroke="#868686" stroke-width="0.8"/>
<line x1="584.60" y1="782.70" x2="584.60" y2="821.50" stroke="#868686" stroke-width="0.8"/>
<line x1="581.60" y1="754.60" x2="587.60" y2="754.60" stroke="#868686" stroke-width="0.8"/>
<line x1="581.60" y1="821.50" x2="587.60" y2="821.50" stroke="#868686" stroke-width="0.8"/>
<rect x="575.80" y="763.00" width="17.6" height="19.70" fill="url(#boxg)" stroke="#2c6f9c" stroke-width="0.8"/>
<line x1="575.80" y1="778.90" x2="593.40" y2="778.90" stroke="#245f85" stroke-width="0.9"/>
<line x1="613.00" y1="766.10" x2="613.00" y2="771.20" stroke="#868686" stroke-width="0.8"/>
<line x1="613.00" y1="780.70" x2="613.00" y2="785.30" stroke="#868686" stroke-width="0.8"/>
<line x1="610.00" y1="766.10" x2="616.00" y2="766.10" stroke="#868686" stroke-width="0.8"/>
<line x1="610.00" y1="785.30" x2="616.00" y2="785.30" stroke="#868686" stroke-width="0.8"/>
<rect x="604.20" y="771.20" width="17.6" height="9.50" fill="url(#boxg)" stroke="#2c6f9c" stroke-width="0.8"/>
<line x1="604.20" y1="774.50" x2="621.80" y2="774.50" stroke="#245f85" stroke-width="0.9"/>
<line x1="641.10" y1="769.90" x2="641.10" y2="774.30" stroke="#868686" stroke-width="0.8"/>
<line x1="641.10" y1="789.60" x2="641.10" y2="800.60" stroke="#868686" stroke-width="0.8"/>
<line x1="638.10" y1="769.90" x2="644.10" y2="769.90" stroke="#868686" stroke-width="0.8"/>
<line x1="638.10" y1="800.60" x2="644.10" y2="800.60" stroke="#868686" stroke-width="0.8"/>
<rect x="632.30" y="774.30" width="17.6" height="15.30" fill="url(#boxg)" stroke="#2c6f9c" stroke-width="0.8"/>
<line x1="632.30" y1="777.10" x2="649.90" y2="777.10" stroke="#245f85" stroke-width="0.9"/>
<line x1="668.90" y1="749.50" x2="668.90" y2="764.10" stroke="#868686" stroke-width="0.8"/>
<line x1="668.90" y1="777.60" x2="668.90" y2="839.40" stroke="#868686" stroke-width="0.8"/>
<line x1="665.90" y1="749.50" x2="671.90" y2="749.50" stroke="#868686" stroke-width="0.8"/>
<line x1="665.90" y1="839.40" x2="671.90" y2="839.40" stroke="#868686" stroke-width="0.8"/>
<rect x="660.10" y="764.10" width="17.6" height="13.50" fill="url(#boxg)" stroke="#2c6f9c" stroke-width="0.8"/>
<line x1="660.10" y1="769.90" x2="677.70" y2="769.90" stroke="#245f85" stroke-width="0.9"/>
<line x1="402.30" y1="777.10" x2="685.00" y2="777.10" stroke="#d63c44" stroke-width="1.0" stroke-dasharray="2.7,2.5" opacity="0.8"/>
<text x="417.20" y="855.10" font-size="8.9" text-anchor="end" transform="rotate(-45 417.20 855.10)">Brain</text>
<text x="445.30" y="855.10" font-size="8.9" text-anchor="end" transform="rotate(-45 445.30 855.10)">Breast</text>
<text x="473.60" y="855.10" font-size="8.9" text-anchor="end" transform="rotate(-45 473.60 855.10)">Cervix</text>
<text x="501.70" y="855.10" font-size="8.9" text-anchor="end" transform="rotate(-45 501.70 855.10)">Colon</text>
<text x="530.00" y="855.10" font-size="8.9" text-anchor="end" transform="rotate(-45 530.00 855.10)">Liver</text>
<text x="558.10" y="855.10" font-size="8.9" text-anchor="end" transform="rotate(-45 558.10 855.10)">Lung</text>
<text x="586.20" y="855.10" font-size="8.9" text-anchor="end" transform="rotate(-45 586.20 855.10)">Ovary</text>
<text x="614.60" y="855.10" font-size="8.9" text-anchor="end" transform="rotate(-45 614.60 855.10)">Pancreas</text>
<text x="642.70" y="855.10" font-size="8.9" text-anchor="end" transform="rotate(-45 642.70 855.10)">Prostate</text>
<text x="670.50" y="855.10" font-size="8.9" text-anchor="end" transform="rotate(-45 670.50 855.10)">Skin</text>
<text x="558" y="914.9" font-size="10.2" font-weight="bold" fill="#2a2a2a"><tspan textLength="71" lengthAdjust="spacingAndGlyphs">Nature Reviews</tspan></text>
<text x="631.30" y="914.90" font-size="10.2" fill="#2a2a2a">|</text>
<text x="637.00" y="914.90" font-size="10.2" font-weight="bold" fill="#2aa3d8" textLength="42.70" lengthAdjust="spacingAndGlyphs">Materials</text>
</svg></body></html>
